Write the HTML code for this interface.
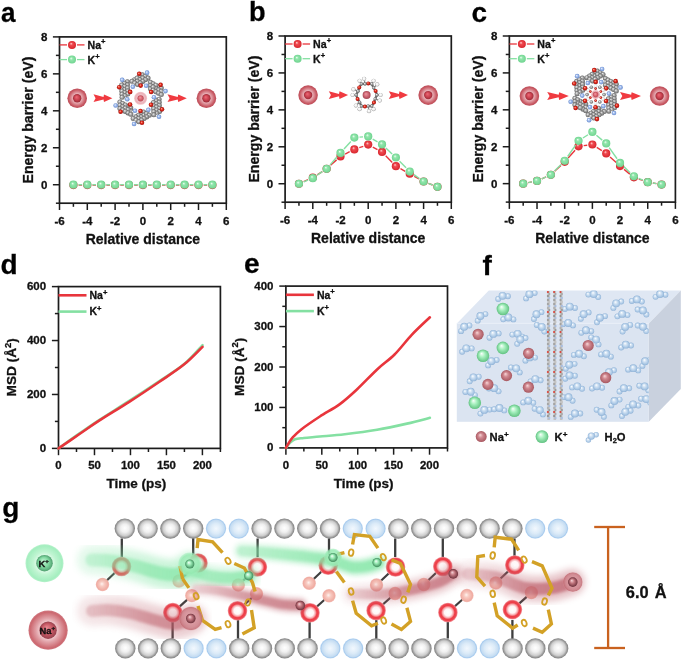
<!DOCTYPE html><html><head><meta charset="utf-8"><style>html,body{margin:0;padding:0;background:#fff;overflow:hidden}svg{display:block;filter:blur(0.4px)}text{font-family:"Liberation Sans",sans-serif;font-weight:bold;stroke:#111;stroke-width:0.3px}</style></head><body>
<svg width="685" height="663" viewBox="0 0 685 663">
<defs>
<radialGradient id="gRed" cx="0.5" cy="0.5" r="0.5" fx="0.38" fy="0.32"><stop offset="0" stop-color="#ffd8d8"/><stop offset="0.35" stop-color="#f04a50"/><stop offset="1" stop-color="#d8262e"/></radialGradient>
<radialGradient id="gGrn" cx="0.5" cy="0.5" r="0.5" fx="0.38" fy="0.32"><stop offset="0" stop-color="#f2fff6"/><stop offset="0.35" stop-color="#92e6ac"/><stop offset="1" stop-color="#70d490"/></radialGradient>
<radialGradient id="gHalo" cx="0.5" cy="0.5" r="0.5"><stop offset="0.4" stop-color="#eebcc2"/><stop offset="0.6" stop-color="#dc9098"/><stop offset="0.85" stop-color="#c85a64"/><stop offset="1" stop-color="#bc4c58"/></radialGradient>
<radialGradient id="gCore" cx="0.5" cy="0.5" r="0.5" fx="0.4" fy="0.35"><stop offset="0" stop-color="#ee6a78"/><stop offset="0.6" stop-color="#c8404e"/><stop offset="1" stop-color="#9c2c38"/></radialGradient>
<radialGradient id="gC" cx="0.5" cy="0.5" r="0.5" fx="0.38" fy="0.35"><stop offset="0" stop-color="#f2f2f2"/><stop offset="0.5" stop-color="#a4a4a4"/><stop offset="1" stop-color="#666666"/></radialGradient>
<radialGradient id="gO" cx="0.5" cy="0.5" r="0.5" fx="0.38" fy="0.35"><stop offset="0" stop-color="#ffb0a0"/><stop offset="0.5" stop-color="#e02818"/><stop offset="1" stop-color="#a01010"/></radialGradient>
<radialGradient id="gN" cx="0.5" cy="0.5" r="0.5" fx="0.38" fy="0.35"><stop offset="0" stop-color="#eef4ff"/><stop offset="0.5" stop-color="#9cb8ec"/><stop offset="1" stop-color="#6a8ccc"/></radialGradient>
<radialGradient id="gHw" cx="0.5" cy="0.5" r="0.5" fx="0.38" fy="0.35"><stop offset="0" stop-color="#ffffff"/><stop offset="0.6" stop-color="#f0f0f0"/><stop offset="1" stop-color="#b8b8b8"/></radialGradient>
<radialGradient id="gHaloS" cx="0.5" cy="0.5" r="0.5"><stop offset="0.3" stop-color="#f4d0d4"/><stop offset="0.8" stop-color="#eab0b8"/><stop offset="1" stop-color="#f2c8cc"/></radialGradient>
<radialGradient id="gCore2" cx="0.5" cy="0.5" r="0.5" fx="0.4" fy="0.35"><stop offset="0" stop-color="#f49aa2"/><stop offset="0.6" stop-color="#d86470"/><stop offset="1" stop-color="#b84a56"/></radialGradient>
<radialGradient id="gW" cx="0.5" cy="0.5" r="0.5" fx="0.4" fy="0.32"><stop offset="0" stop-color="#ffffff"/><stop offset="0.35" stop-color="#d4e4f4"/><stop offset="0.8" stop-color="#a8c6e4"/><stop offset="1" stop-color="#90b2d6"/></radialGradient>
<radialGradient id="gNaF" cx="0.5" cy="0.5" r="0.5" fx="0.4" fy="0.34"><stop offset="0" stop-color="#f8d8d8"/><stop offset="0.42" stop-color="#d08890"/><stop offset="1" stop-color="#a85860"/></radialGradient>
<radialGradient id="gKF" cx="0.5" cy="0.5" r="0.5" fx="0.38" fy="0.32"><stop offset="0" stop-color="#fbfffc"/><stop offset="0.45" stop-color="#a6f0be"/><stop offset="1" stop-color="#62c282"/></radialGradient>
<radialGradient id="gGrayB" cx="0.5" cy="0.5" r="0.5" fx="0.5" fy="0.47"><stop offset="0" stop-color="#ffffff"/><stop offset="0.4" stop-color="#f0f0f0"/><stop offset="0.72" stop-color="#cdcdcd"/><stop offset="0.88" stop-color="#9c9c9c"/><stop offset="1" stop-color="#7c7c7c"/></radialGradient>
<radialGradient id="gBlueB" cx="0.5" cy="0.5" r="0.5"><stop offset="0" stop-color="#f2f8fe"/><stop offset="0.5" stop-color="#dcebf8"/><stop offset="0.82" stop-color="#c4dcf2"/><stop offset="0.92" stop-color="#a8cbee"/><stop offset="1" stop-color="#c0dbf4"/></radialGradient>
<radialGradient id="gOring" cx="0.5" cy="0.5" r="0.5"><stop offset="0" stop-color="#ffffff"/><stop offset="0.36" stop-color="#fff6f6"/><stop offset="0.55" stop-color="#f7a8ac"/><stop offset="0.7" stop-color="#ef3c46"/><stop offset="0.86" stop-color="#ec4650"/><stop offset="1" stop-color="#f4a4aa"/></radialGradient>
<radialGradient id="gHp" cx="0.5" cy="0.5" r="0.5" fx="0.45" fy="0.45"><stop offset="0" stop-color="#fff2ee"/><stop offset="0.35" stop-color="#f8cbc2"/><stop offset="0.85" stop-color="#f0aca2"/><stop offset="1" stop-color="#f3bfb8"/></radialGradient>
<radialGradient id="gKion" cx="0.5" cy="0.5" r="0.5" fx="0.38" fy="0.32"><stop offset="0" stop-color="#f6fff9"/><stop offset="0.45" stop-color="#96e8b2"/><stop offset="1" stop-color="#3e8a5a"/></radialGradient>
<radialGradient id="gNaion" cx="0.5" cy="0.5" r="0.5" fx="0.38" fy="0.32"><stop offset="0" stop-color="#f8d6da"/><stop offset="0.45" stop-color="#c47880"/><stop offset="1" stop-color="#6e323c"/></radialGradient>
<radialGradient id="gKhalo" cx="0.5" cy="0.5" r="0.5"><stop offset="0" stop-color="#b8f4cc" stop-opacity="0.9"/><stop offset="0.8" stop-color="#96eab2" stop-opacity="0.85"/><stop offset="1" stop-color="#a4eebe" stop-opacity="0.5"/></radialGradient>
<radialGradient id="gNahalo" cx="0.5" cy="0.5" r="0.5"><stop offset="0" stop-color="#eab4ba" stop-opacity="0.95"/><stop offset="0.75" stop-color="#d08890" stop-opacity="0.9"/><stop offset="0.92" stop-color="#c47078" stop-opacity="0.85"/><stop offset="1" stop-color="#d89098" stop-opacity="0.4"/></radialGradient>
<radialGradient id="gKbig" cx="0.5" cy="0.5" r="0.5"><stop offset="0.4" stop-color="#e0fbe9"/><stop offset="0.6" stop-color="#c0f5d2"/><stop offset="0.92" stop-color="#a4eebf"/><stop offset="1" stop-color="#b8f2cc"/></radialGradient>
<radialGradient id="gKbigc" cx="0.5" cy="0.5" r="0.5" fx="0.4" fy="0.35"><stop offset="0" stop-color="#c4f6d6"/><stop offset="0.6" stop-color="#80d8a0"/><stop offset="1" stop-color="#4e9e6e"/></radialGradient>
<radialGradient id="gNabig" cx="0.5" cy="0.5" r="0.5"><stop offset="0.4" stop-color="#f4d0d4"/><stop offset="0.6" stop-color="#e2a4aa"/><stop offset="0.92" stop-color="#cc6870"/><stop offset="1" stop-color="#d07880"/></radialGradient>
<radialGradient id="gNabigc" cx="0.5" cy="0.5" r="0.5" fx="0.4" fy="0.35"><stop offset="0" stop-color="#ea8a94"/><stop offset="0.6" stop-color="#c85a66"/><stop offset="1" stop-color="#96404c"/></radialGradient>
<filter id="fB1" x="-20%" y="-100%" width="140%" height="300%"><feGaussianBlur stdDeviation="3.5"/></filter>
<filter id="fB3" x="-20%" y="-100%" width="140%" height="300%"><feGaussianBlur stdDeviation="2.2"/></filter>
<filter id="fB2" x="-20%" y="-100%" width="140%" height="300%"><feGaussianBlur stdDeviation="1.5"/></filter>
<radialGradient id="gHw2" cx="0.5" cy="0.5" r="0.5" fx="0.4" fy="0.35"><stop offset="0" stop-color="#ffffff"/><stop offset="0.55" stop-color="#f2f2f2"/><stop offset="1" stop-color="#a0a0a0"/></radialGradient>
<radialGradient id="gCore3" cx="0.5" cy="0.5" r="0.5" fx="0.4" fy="0.35"><stop offset="0" stop-color="#ee9aa4"/><stop offset="0.6" stop-color="#cc6472"/><stop offset="1" stop-color="#a44654"/></radialGradient>
</defs>
<text x="1.1" y="21.6" font-size="28" fill="#000" transform="translate(1.1 0) scale(0.93 1) translate(-1.1 0)">a</text>
<text x="249.00" y="21.20" font-size="27.2" text-anchor="start" fill="#000" >b</text>
<text x="471.60" y="21.50" font-size="28" text-anchor="start" fill="#000" >c</text>
<text x="0.40" y="273.70" font-size="28" text-anchor="start" fill="#000" >d</text>
<text x="244.00" y="272.90" font-size="28" text-anchor="start" fill="#000" >e</text>
<text x="482.60" y="274.60" font-size="28" text-anchor="start" fill="#000" >f</text>
<text x="2.30" y="516.60" font-size="28" text-anchor="start" fill="#000" >g</text>
<line x1="55.90" y1="203.20" x2="59.50" y2="203.20" stroke="#1c1c1c" stroke-width="1.5" />
<line x1="52.90" y1="184.72" x2="59.50" y2="184.72" stroke="#1c1c1c" stroke-width="1.5" />
<text x="47.50" y="188.72" font-size="11.5" text-anchor="end" fill="#111" >0</text>
<line x1="55.90" y1="166.24" x2="59.50" y2="166.24" stroke="#1c1c1c" stroke-width="1.5" />
<line x1="52.90" y1="147.77" x2="59.50" y2="147.77" stroke="#1c1c1c" stroke-width="1.5" />
<text x="47.50" y="151.77" font-size="11.5" text-anchor="end" fill="#111" >2</text>
<line x1="55.90" y1="129.29" x2="59.50" y2="129.29" stroke="#1c1c1c" stroke-width="1.5" />
<line x1="52.90" y1="110.81" x2="59.50" y2="110.81" stroke="#1c1c1c" stroke-width="1.5" />
<text x="47.50" y="114.81" font-size="11.5" text-anchor="end" fill="#111" >4</text>
<line x1="55.90" y1="92.33" x2="59.50" y2="92.33" stroke="#1c1c1c" stroke-width="1.5" />
<line x1="52.90" y1="73.86" x2="59.50" y2="73.86" stroke="#1c1c1c" stroke-width="1.5" />
<text x="47.50" y="77.86" font-size="11.5" text-anchor="end" fill="#111" >6</text>
<line x1="55.90" y1="55.38" x2="59.50" y2="55.38" stroke="#1c1c1c" stroke-width="1.5" />
<line x1="52.90" y1="36.90" x2="59.50" y2="36.90" stroke="#1c1c1c" stroke-width="1.5" />
<text x="47.50" y="40.90" font-size="11.5" text-anchor="end" fill="#111" >8</text>
<line x1="59.50" y1="203.20" x2="59.50" y2="210.00" stroke="#1c1c1c" stroke-width="1.5" />
<text x="59.50" y="225.20" font-size="11.5" text-anchor="middle" fill="#111" >-6</text>
<line x1="73.40" y1="203.20" x2="73.40" y2="206.80" stroke="#1c1c1c" stroke-width="1.5" />
<line x1="87.30" y1="203.20" x2="87.30" y2="210.00" stroke="#1c1c1c" stroke-width="1.5" />
<text x="87.30" y="225.20" font-size="11.5" text-anchor="middle" fill="#111" >-4</text>
<line x1="101.20" y1="203.20" x2="101.20" y2="206.80" stroke="#1c1c1c" stroke-width="1.5" />
<line x1="115.10" y1="203.20" x2="115.10" y2="210.00" stroke="#1c1c1c" stroke-width="1.5" />
<text x="115.10" y="225.20" font-size="11.5" text-anchor="middle" fill="#111" >-2</text>
<line x1="129.00" y1="203.20" x2="129.00" y2="206.80" stroke="#1c1c1c" stroke-width="1.5" />
<line x1="142.90" y1="203.20" x2="142.90" y2="210.00" stroke="#1c1c1c" stroke-width="1.5" />
<text x="142.90" y="225.20" font-size="11.5" text-anchor="middle" fill="#111" >0</text>
<line x1="156.80" y1="203.20" x2="156.80" y2="206.80" stroke="#1c1c1c" stroke-width="1.5" />
<line x1="170.70" y1="203.20" x2="170.70" y2="210.00" stroke="#1c1c1c" stroke-width="1.5" />
<text x="170.70" y="225.20" font-size="11.5" text-anchor="middle" fill="#111" >2</text>
<line x1="184.60" y1="203.20" x2="184.60" y2="206.80" stroke="#1c1c1c" stroke-width="1.5" />
<line x1="198.50" y1="203.20" x2="198.50" y2="210.00" stroke="#1c1c1c" stroke-width="1.5" />
<text x="198.50" y="225.20" font-size="11.5" text-anchor="middle" fill="#111" >4</text>
<line x1="212.40" y1="203.20" x2="212.40" y2="206.80" stroke="#1c1c1c" stroke-width="1.5" />
<line x1="226.30" y1="203.20" x2="226.30" y2="210.00" stroke="#1c1c1c" stroke-width="1.5" />
<text x="226.30" y="225.20" font-size="11.5" text-anchor="middle" fill="#111" >6</text>
<rect x="59.50" y="36.90" width="166.80" height="166.30" fill="none" stroke="#1c1c1c" stroke-width="1.7"/>
<text x="142.90" y="244.20" font-size="14" text-anchor="middle" fill="#111" >Relative distance</text>
<text x="0" y="0" font-size="14.1" text-anchor="middle" fill="#111" transform="translate(33.20,120.05) rotate(-90)">Energy barrier (eV)</text>
<line x1="59.50" y1="44.90" x2="67.00" y2="44.90" stroke="#e8353c" stroke-width="1.3" />
<line x1="77.00" y1="44.90" x2="84.50" y2="44.90" stroke="#e8353c" stroke-width="1.3" />
<circle cx="72.00" cy="44.90" r="4.00" fill="url(#gRed)" />
<line x1="59.50" y1="59.60" x2="67.00" y2="59.60" stroke="#84e0a2" stroke-width="1.3" />
<line x1="77.00" y1="59.60" x2="84.50" y2="59.60" stroke="#84e0a2" stroke-width="1.3" />
<circle cx="72.00" cy="59.60" r="4.00" fill="url(#gGrn)" />
<text x="87.50" y="48.80" font-size="10.6" fill="#111">Na<tspan font-size="7.6" dy="-4.45">+</tspan></text>
<text x="87.50" y="63.50" font-size="10.6" fill="#111">K<tspan font-size="7.6" dy="-4.45">+</tspan></text>
<line x1="78.60" y1="185.09" x2="82.10" y2="185.09" stroke="#e8353c" stroke-width="1.4" />
<line x1="92.50" y1="185.09" x2="96.00" y2="185.09" stroke="#e8353c" stroke-width="1.4" />
<line x1="106.40" y1="185.09" x2="109.90" y2="185.09" stroke="#e8353c" stroke-width="1.4" />
<line x1="120.30" y1="185.09" x2="123.80" y2="185.09" stroke="#e8353c" stroke-width="1.4" />
<line x1="134.20" y1="185.09" x2="137.70" y2="185.09" stroke="#e8353c" stroke-width="1.4" />
<line x1="148.10" y1="185.09" x2="151.60" y2="185.09" stroke="#e8353c" stroke-width="1.4" />
<line x1="162.00" y1="185.09" x2="165.50" y2="185.09" stroke="#e8353c" stroke-width="1.4" />
<line x1="175.90" y1="185.09" x2="179.40" y2="185.09" stroke="#e8353c" stroke-width="1.4" />
<line x1="189.80" y1="185.09" x2="193.30" y2="185.09" stroke="#e8353c" stroke-width="1.4" />
<line x1="203.70" y1="185.09" x2="207.20" y2="185.09" stroke="#e8353c" stroke-width="1.4" />
<circle cx="73.40" cy="185.09" r="4.10" fill="url(#gRed)" />
<circle cx="87.30" cy="185.09" r="4.10" fill="url(#gRed)" />
<circle cx="101.20" cy="185.09" r="4.10" fill="url(#gRed)" />
<circle cx="115.10" cy="185.09" r="4.10" fill="url(#gRed)" />
<circle cx="129.00" cy="185.09" r="4.10" fill="url(#gRed)" />
<circle cx="142.90" cy="185.09" r="4.10" fill="url(#gRed)" />
<circle cx="156.80" cy="185.09" r="4.10" fill="url(#gRed)" />
<circle cx="170.70" cy="185.09" r="4.10" fill="url(#gRed)" />
<circle cx="184.60" cy="185.09" r="4.10" fill="url(#gRed)" />
<circle cx="198.50" cy="185.09" r="4.10" fill="url(#gRed)" />
<circle cx="212.40" cy="185.09" r="4.10" fill="url(#gRed)" />
<line x1="78.60" y1="184.72" x2="82.10" y2="184.72" stroke="#84e0a2" stroke-width="1.4" />
<line x1="92.50" y1="184.72" x2="96.00" y2="184.72" stroke="#84e0a2" stroke-width="1.4" />
<line x1="106.40" y1="184.72" x2="109.90" y2="184.72" stroke="#84e0a2" stroke-width="1.4" />
<line x1="120.30" y1="184.72" x2="123.80" y2="184.72" stroke="#84e0a2" stroke-width="1.4" />
<line x1="134.20" y1="184.72" x2="137.70" y2="184.72" stroke="#84e0a2" stroke-width="1.4" />
<line x1="148.10" y1="184.72" x2="151.60" y2="184.72" stroke="#84e0a2" stroke-width="1.4" />
<line x1="162.00" y1="184.72" x2="165.50" y2="184.72" stroke="#84e0a2" stroke-width="1.4" />
<line x1="175.90" y1="184.72" x2="179.40" y2="184.72" stroke="#84e0a2" stroke-width="1.4" />
<line x1="189.80" y1="184.72" x2="193.30" y2="184.72" stroke="#84e0a2" stroke-width="1.4" />
<line x1="203.70" y1="184.72" x2="207.20" y2="184.72" stroke="#84e0a2" stroke-width="1.4" />
<circle cx="73.40" cy="184.72" r="4.10" fill="url(#gGrn)" />
<circle cx="87.30" cy="184.72" r="4.10" fill="url(#gGrn)" />
<circle cx="101.20" cy="184.72" r="4.10" fill="url(#gGrn)" />
<circle cx="115.10" cy="184.72" r="4.10" fill="url(#gGrn)" />
<circle cx="129.00" cy="184.72" r="4.10" fill="url(#gGrn)" />
<circle cx="142.90" cy="184.72" r="4.10" fill="url(#gGrn)" />
<circle cx="156.80" cy="184.72" r="4.10" fill="url(#gGrn)" />
<circle cx="170.70" cy="184.72" r="4.10" fill="url(#gGrn)" />
<circle cx="184.60" cy="184.72" r="4.10" fill="url(#gGrn)" />
<circle cx="198.50" cy="184.72" r="4.10" fill="url(#gGrn)" />
<circle cx="212.40" cy="184.72" r="4.10" fill="url(#gGrn)" />
<line x1="281.50" y1="202.20" x2="285.10" y2="202.20" stroke="#1c1c1c" stroke-width="1.5" />
<line x1="278.50" y1="183.73" x2="285.10" y2="183.73" stroke="#1c1c1c" stroke-width="1.5" />
<text x="273.10" y="187.73" font-size="11.5" text-anchor="end" fill="#111" >0</text>
<line x1="281.50" y1="165.27" x2="285.10" y2="165.27" stroke="#1c1c1c" stroke-width="1.5" />
<line x1="278.50" y1="146.80" x2="285.10" y2="146.80" stroke="#1c1c1c" stroke-width="1.5" />
<text x="273.10" y="150.80" font-size="11.5" text-anchor="end" fill="#111" >2</text>
<line x1="281.50" y1="128.33" x2="285.10" y2="128.33" stroke="#1c1c1c" stroke-width="1.5" />
<line x1="278.50" y1="109.87" x2="285.10" y2="109.87" stroke="#1c1c1c" stroke-width="1.5" />
<text x="273.10" y="113.87" font-size="11.5" text-anchor="end" fill="#111" >4</text>
<line x1="281.50" y1="91.40" x2="285.10" y2="91.40" stroke="#1c1c1c" stroke-width="1.5" />
<line x1="278.50" y1="72.93" x2="285.10" y2="72.93" stroke="#1c1c1c" stroke-width="1.5" />
<text x="273.10" y="76.93" font-size="11.5" text-anchor="end" fill="#111" >6</text>
<line x1="281.50" y1="54.47" x2="285.10" y2="54.47" stroke="#1c1c1c" stroke-width="1.5" />
<line x1="278.50" y1="36.00" x2="285.10" y2="36.00" stroke="#1c1c1c" stroke-width="1.5" />
<text x="273.10" y="40.00" font-size="11.5" text-anchor="end" fill="#111" >8</text>
<line x1="285.10" y1="202.20" x2="285.10" y2="209.00" stroke="#1c1c1c" stroke-width="1.5" />
<text x="285.10" y="224.20" font-size="11.5" text-anchor="middle" fill="#111" >-6</text>
<line x1="298.95" y1="202.20" x2="298.95" y2="205.80" stroke="#1c1c1c" stroke-width="1.5" />
<line x1="312.80" y1="202.20" x2="312.80" y2="209.00" stroke="#1c1c1c" stroke-width="1.5" />
<text x="312.80" y="224.20" font-size="11.5" text-anchor="middle" fill="#111" >-4</text>
<line x1="326.65" y1="202.20" x2="326.65" y2="205.80" stroke="#1c1c1c" stroke-width="1.5" />
<line x1="340.50" y1="202.20" x2="340.50" y2="209.00" stroke="#1c1c1c" stroke-width="1.5" />
<text x="340.50" y="224.20" font-size="11.5" text-anchor="middle" fill="#111" >-2</text>
<line x1="354.35" y1="202.20" x2="354.35" y2="205.80" stroke="#1c1c1c" stroke-width="1.5" />
<line x1="368.20" y1="202.20" x2="368.20" y2="209.00" stroke="#1c1c1c" stroke-width="1.5" />
<text x="368.20" y="224.20" font-size="11.5" text-anchor="middle" fill="#111" >0</text>
<line x1="382.05" y1="202.20" x2="382.05" y2="205.80" stroke="#1c1c1c" stroke-width="1.5" />
<line x1="395.90" y1="202.20" x2="395.90" y2="209.00" stroke="#1c1c1c" stroke-width="1.5" />
<text x="395.90" y="224.20" font-size="11.5" text-anchor="middle" fill="#111" >2</text>
<line x1="409.75" y1="202.20" x2="409.75" y2="205.80" stroke="#1c1c1c" stroke-width="1.5" />
<line x1="423.60" y1="202.20" x2="423.60" y2="209.00" stroke="#1c1c1c" stroke-width="1.5" />
<text x="423.60" y="224.20" font-size="11.5" text-anchor="middle" fill="#111" >4</text>
<line x1="437.45" y1="202.20" x2="437.45" y2="205.80" stroke="#1c1c1c" stroke-width="1.5" />
<line x1="451.30" y1="202.20" x2="451.30" y2="209.00" stroke="#1c1c1c" stroke-width="1.5" />
<text x="451.30" y="224.20" font-size="11.5" text-anchor="middle" fill="#111" >6</text>
<rect x="285.10" y="36.00" width="166.20" height="166.20" fill="none" stroke="#1c1c1c" stroke-width="1.7"/>
<text x="368.20" y="243.20" font-size="14" text-anchor="middle" fill="#111" >Relative distance</text>
<text x="0" y="0" font-size="14.1" text-anchor="middle" fill="#111" transform="translate(258.80,119.10) rotate(-90)">Energy barrier (eV)</text>
<line x1="285.10" y1="44.00" x2="292.60" y2="44.00" stroke="#e8353c" stroke-width="1.3" />
<line x1="302.60" y1="44.00" x2="310.10" y2="44.00" stroke="#e8353c" stroke-width="1.3" />
<circle cx="297.60" cy="44.00" r="4.00" fill="url(#gRed)" />
<line x1="285.10" y1="58.70" x2="292.60" y2="58.70" stroke="#84e0a2" stroke-width="1.3" />
<line x1="302.60" y1="58.70" x2="310.10" y2="58.70" stroke="#84e0a2" stroke-width="1.3" />
<circle cx="297.60" cy="58.70" r="4.00" fill="url(#gGrn)" />
<text x="313.10" y="47.90" font-size="10.6" fill="#111">Na<tspan font-size="7.6" dy="-4.45">+</tspan></text>
<text x="313.10" y="62.60" font-size="10.6" fill="#111">K<tspan font-size="7.6" dy="-4.45">+</tspan></text>
<line x1="303.71" y1="181.64" x2="308.04" y2="179.73" stroke="#e8353c" stroke-width="1.4" />
<line x1="317.18" y1="174.84" x2="322.27" y2="171.58" stroke="#e8353c" stroke-width="1.4" />
<line x1="330.53" y1="165.31" x2="336.62" y2="159.87" stroke="#e8353c" stroke-width="1.4" />
<line x1="345.14" y1="154.05" x2="349.71" y2="151.74" stroke="#e8353c" stroke-width="1.4" />
<line x1="359.26" y1="147.68" x2="363.29" y2="146.29" stroke="#e8353c" stroke-width="1.4" />
<line x1="372.79" y1="147.03" x2="377.46" y2="149.52" stroke="#e8353c" stroke-width="1.4" />
<line x1="385.68" y1="155.70" x2="392.27" y2="162.46" stroke="#e8353c" stroke-width="1.4" />
<line x1="400.46" y1="168.68" x2="405.19" y2="171.27" stroke="#e8353c" stroke-width="1.4" />
<line x1="414.29" y1="176.30" x2="419.06" y2="178.98" stroke="#e8353c" stroke-width="1.4" />
<line x1="428.45" y1="183.39" x2="432.60" y2="185.00" stroke="#e8353c" stroke-width="1.4" />
<circle cx="298.95" cy="183.73" r="4.10" fill="url(#gRed)" />
<circle cx="312.80" cy="177.64" r="4.10" fill="url(#gRed)" />
<circle cx="326.65" cy="168.78" r="4.10" fill="url(#gRed)" />
<circle cx="340.50" cy="156.40" r="4.10" fill="url(#gRed)" />
<circle cx="354.35" cy="149.39" r="4.10" fill="url(#gRed)" />
<circle cx="368.20" cy="144.58" r="4.10" fill="url(#gRed)" />
<circle cx="382.05" cy="151.97" r="4.10" fill="url(#gRed)" />
<circle cx="395.90" cy="166.19" r="4.10" fill="url(#gRed)" />
<circle cx="409.75" cy="173.76" r="4.10" fill="url(#gRed)" />
<circle cx="423.60" cy="181.52" r="4.10" fill="url(#gRed)" />
<circle cx="437.45" cy="186.87" r="4.10" fill="url(#gRed)" />
<line x1="303.78" y1="181.80" x2="307.97" y2="180.12" stroke="#84e0a2" stroke-width="1.4" />
<line x1="317.10" y1="175.27" x2="322.35" y2="171.70" stroke="#84e0a2" stroke-width="1.4" />
<line x1="330.07" y1="164.86" x2="337.08" y2="156.81" stroke="#84e0a2" stroke-width="1.4" />
<line x1="343.99" y1="149.04" x2="350.86" y2="141.42" stroke="#84e0a2" stroke-width="1.4" />
<line x1="359.53" y1="137.15" x2="363.02" y2="136.87" stroke="#84e0a2" stroke-width="1.4" />
<line x1="372.71" y1="139.05" x2="377.54" y2="141.81" stroke="#84e0a2" stroke-width="1.4" />
<line x1="385.83" y1="147.97" x2="392.12" y2="153.94" stroke="#84e0a2" stroke-width="1.4" />
<line x1="399.55" y1="161.21" x2="406.10" y2="167.84" stroke="#84e0a2" stroke-width="1.4" />
<line x1="413.97" y1="174.58" x2="419.38" y2="178.48" stroke="#84e0a2" stroke-width="1.4" />
<line x1="428.45" y1="183.39" x2="432.60" y2="185.00" stroke="#84e0a2" stroke-width="1.4" />
<circle cx="298.95" cy="183.73" r="4.10" fill="url(#gGrn)" />
<circle cx="312.80" cy="178.19" r="4.10" fill="url(#gGrn)" />
<circle cx="326.65" cy="168.78" r="4.10" fill="url(#gGrn)" />
<circle cx="340.50" cy="152.89" r="4.10" fill="url(#gGrn)" />
<circle cx="354.35" cy="137.57" r="4.10" fill="url(#gGrn)" />
<circle cx="368.20" cy="136.46" r="4.10" fill="url(#gGrn)" />
<circle cx="382.05" cy="144.40" r="4.10" fill="url(#gGrn)" />
<circle cx="395.90" cy="157.51" r="4.10" fill="url(#gGrn)" />
<circle cx="409.75" cy="171.55" r="4.10" fill="url(#gGrn)" />
<circle cx="423.60" cy="181.52" r="4.10" fill="url(#gGrn)" />
<circle cx="437.45" cy="186.87" r="4.10" fill="url(#gGrn)" />
<line x1="505.75" y1="202.10" x2="509.35" y2="202.10" stroke="#1c1c1c" stroke-width="1.5" />
<line x1="502.75" y1="183.64" x2="509.35" y2="183.64" stroke="#1c1c1c" stroke-width="1.5" />
<text x="497.35" y="187.64" font-size="11.5" text-anchor="end" fill="#111" >0</text>
<line x1="505.75" y1="165.19" x2="509.35" y2="165.19" stroke="#1c1c1c" stroke-width="1.5" />
<line x1="502.75" y1="146.73" x2="509.35" y2="146.73" stroke="#1c1c1c" stroke-width="1.5" />
<text x="497.35" y="150.73" font-size="11.5" text-anchor="end" fill="#111" >2</text>
<line x1="505.75" y1="128.28" x2="509.35" y2="128.28" stroke="#1c1c1c" stroke-width="1.5" />
<line x1="502.75" y1="109.82" x2="509.35" y2="109.82" stroke="#1c1c1c" stroke-width="1.5" />
<text x="497.35" y="113.82" font-size="11.5" text-anchor="end" fill="#111" >4</text>
<line x1="505.75" y1="91.37" x2="509.35" y2="91.37" stroke="#1c1c1c" stroke-width="1.5" />
<line x1="502.75" y1="72.91" x2="509.35" y2="72.91" stroke="#1c1c1c" stroke-width="1.5" />
<text x="497.35" y="76.91" font-size="11.5" text-anchor="end" fill="#111" >6</text>
<line x1="505.75" y1="54.46" x2="509.35" y2="54.46" stroke="#1c1c1c" stroke-width="1.5" />
<line x1="502.75" y1="36.00" x2="509.35" y2="36.00" stroke="#1c1c1c" stroke-width="1.5" />
<text x="497.35" y="40.00" font-size="11.5" text-anchor="end" fill="#111" >8</text>
<line x1="509.35" y1="202.10" x2="509.35" y2="208.90" stroke="#1c1c1c" stroke-width="1.5" />
<text x="509.35" y="224.10" font-size="11.5" text-anchor="middle" fill="#111" >-6</text>
<line x1="523.19" y1="202.10" x2="523.19" y2="205.70" stroke="#1c1c1c" stroke-width="1.5" />
<line x1="537.02" y1="202.10" x2="537.02" y2="208.90" stroke="#1c1c1c" stroke-width="1.5" />
<text x="537.02" y="224.10" font-size="11.5" text-anchor="middle" fill="#111" >-4</text>
<line x1="550.86" y1="202.10" x2="550.86" y2="205.70" stroke="#1c1c1c" stroke-width="1.5" />
<line x1="564.70" y1="202.10" x2="564.70" y2="208.90" stroke="#1c1c1c" stroke-width="1.5" />
<text x="564.70" y="224.10" font-size="11.5" text-anchor="middle" fill="#111" >-2</text>
<line x1="578.54" y1="202.10" x2="578.54" y2="205.70" stroke="#1c1c1c" stroke-width="1.5" />
<line x1="592.38" y1="202.10" x2="592.38" y2="208.90" stroke="#1c1c1c" stroke-width="1.5" />
<text x="592.38" y="224.10" font-size="11.5" text-anchor="middle" fill="#111" >0</text>
<line x1="606.21" y1="202.10" x2="606.21" y2="205.70" stroke="#1c1c1c" stroke-width="1.5" />
<line x1="620.05" y1="202.10" x2="620.05" y2="208.90" stroke="#1c1c1c" stroke-width="1.5" />
<text x="620.05" y="224.10" font-size="11.5" text-anchor="middle" fill="#111" >2</text>
<line x1="633.89" y1="202.10" x2="633.89" y2="205.70" stroke="#1c1c1c" stroke-width="1.5" />
<line x1="647.73" y1="202.10" x2="647.73" y2="208.90" stroke="#1c1c1c" stroke-width="1.5" />
<text x="647.73" y="224.10" font-size="11.5" text-anchor="middle" fill="#111" >4</text>
<line x1="661.56" y1="202.10" x2="661.56" y2="205.70" stroke="#1c1c1c" stroke-width="1.5" />
<line x1="675.40" y1="202.10" x2="675.40" y2="208.90" stroke="#1c1c1c" stroke-width="1.5" />
<text x="675.40" y="224.10" font-size="11.5" text-anchor="middle" fill="#111" >6</text>
<rect x="509.35" y="36.00" width="166.05" height="166.10" fill="none" stroke="#1c1c1c" stroke-width="1.7"/>
<text x="592.38" y="243.10" font-size="14" text-anchor="middle" fill="#111" >Relative distance</text>
<text x="0" y="0" font-size="14.1" text-anchor="middle" fill="#111" transform="translate(483.05,119.05) rotate(-90)">Energy barrier (eV)</text>
<line x1="509.35" y1="44.00" x2="516.85" y2="44.00" stroke="#e8353c" stroke-width="1.3" />
<line x1="526.85" y1="44.00" x2="534.35" y2="44.00" stroke="#e8353c" stroke-width="1.3" />
<circle cx="521.85" cy="44.00" r="4.00" fill="url(#gRed)" />
<line x1="509.35" y1="58.70" x2="516.85" y2="58.70" stroke="#84e0a2" stroke-width="1.3" />
<line x1="526.85" y1="58.70" x2="534.35" y2="58.70" stroke="#84e0a2" stroke-width="1.3" />
<circle cx="521.85" cy="58.70" r="4.00" fill="url(#gGrn)" />
<text x="537.35" y="47.90" font-size="10.6" fill="#111">Na<tspan font-size="7.6" dy="-4.45">+</tspan></text>
<text x="537.35" y="62.60" font-size="10.6" fill="#111">K<tspan font-size="7.6" dy="-4.45">+</tspan></text>
<line x1="528.29" y1="182.62" x2="531.93" y2="181.90" stroke="#e8353c" stroke-width="1.4" />
<line x1="541.78" y1="178.78" x2="546.10" y2="176.88" stroke="#e8353c" stroke-width="1.4" />
<line x1="554.66" y1="171.24" x2="560.90" y2="165.42" stroke="#e8353c" stroke-width="1.4" />
<line x1="568.16" y1="157.99" x2="575.07" y2="150.24" stroke="#e8353c" stroke-width="1.4" />
<line x1="583.69" y1="145.68" x2="587.22" y2="145.21" stroke="#e8353c" stroke-width="1.4" />
<line x1="596.75" y1="147.32" x2="601.83" y2="150.57" stroke="#e8353c" stroke-width="1.4" />
<line x1="610.04" y1="156.90" x2="616.22" y2="162.59" stroke="#e8353c" stroke-width="1.4" />
<line x1="624.08" y1="169.39" x2="629.85" y2="174.09" stroke="#e8353c" stroke-width="1.4" />
<line x1="638.80" y1="179.07" x2="642.81" y2="180.46" stroke="#e8353c" stroke-width="1.4" />
<line x1="652.85" y1="183.06" x2="656.44" y2="183.68" stroke="#e8353c" stroke-width="1.4" />
<circle cx="523.19" cy="183.64" r="4.10" fill="url(#gRed)" />
<circle cx="537.02" cy="180.88" r="4.10" fill="url(#gRed)" />
<circle cx="550.86" cy="174.79" r="4.10" fill="url(#gRed)" />
<circle cx="564.70" cy="161.87" r="4.10" fill="url(#gRed)" />
<circle cx="578.54" cy="146.36" r="4.10" fill="url(#gRed)" />
<circle cx="592.38" cy="144.52" r="4.10" fill="url(#gRed)" />
<circle cx="606.21" cy="153.38" r="4.10" fill="url(#gRed)" />
<circle cx="620.05" cy="166.11" r="4.10" fill="url(#gRed)" />
<circle cx="633.89" cy="177.37" r="4.10" fill="url(#gRed)" />
<circle cx="647.73" cy="182.17" r="4.10" fill="url(#gRed)" />
<circle cx="661.56" cy="184.57" r="4.10" fill="url(#gRed)" />
<line x1="528.29" y1="182.62" x2="531.93" y2="181.90" stroke="#84e0a2" stroke-width="1.4" />
<line x1="541.78" y1="178.78" x2="546.10" y2="176.88" stroke="#84e0a2" stroke-width="1.4" />
<line x1="554.51" y1="171.08" x2="561.05" y2="164.46" stroke="#84e0a2" stroke-width="1.4" />
<line x1="567.67" y1="156.49" x2="575.57" y2="145.10" stroke="#84e0a2" stroke-width="1.4" />
<line x1="582.92" y1="138.02" x2="588.00" y2="134.77" stroke="#84e0a2" stroke-width="1.4" />
<line x1="596.38" y1="135.28" x2="602.21" y2="140.10" stroke="#84e0a2" stroke-width="1.4" />
<line x1="609.22" y1="147.66" x2="617.05" y2="158.73" stroke="#84e0a2" stroke-width="1.4" />
<line x1="623.80" y1="166.58" x2="630.14" y2="172.66" stroke="#84e0a2" stroke-width="1.4" />
<line x1="638.67" y1="178.30" x2="642.94" y2="180.13" stroke="#84e0a2" stroke-width="1.4" />
<line x1="652.85" y1="183.06" x2="656.44" y2="183.68" stroke="#84e0a2" stroke-width="1.4" />
<circle cx="523.19" cy="183.64" r="4.10" fill="url(#gGrn)" />
<circle cx="537.02" cy="180.88" r="4.10" fill="url(#gGrn)" />
<circle cx="550.86" cy="174.79" r="4.10" fill="url(#gGrn)" />
<circle cx="564.70" cy="160.76" r="4.10" fill="url(#gGrn)" />
<circle cx="578.54" cy="140.83" r="4.10" fill="url(#gGrn)" />
<circle cx="592.38" cy="131.97" r="4.10" fill="url(#gGrn)" />
<circle cx="606.21" cy="143.41" r="4.10" fill="url(#gGrn)" />
<circle cx="620.05" cy="162.97" r="4.10" fill="url(#gGrn)" />
<circle cx="633.89" cy="176.26" r="4.10" fill="url(#gGrn)" />
<circle cx="647.73" cy="182.17" r="4.10" fill="url(#gGrn)" />
<circle cx="661.56" cy="184.57" r="4.10" fill="url(#gGrn)" />
<circle cx="77.20" cy="98.20" r="9.80" fill="url(#gHalo)" />
<circle cx="77.20" cy="98.20" r="4.21" fill="url(#gCore)" />
<path d="M93.50,94.30 L103.52,97.00 L103.99,94.40 L112.40,98.20 L103.99,102.10 L103.52,99.40 L93.50,102.10 L95.58,98.20 Z" fill="#f03a40"/>
<path d="M167.50,94.30 L177.73,97.00 L178.21,94.40 L186.80,98.20 L178.21,102.10 L177.73,99.40 L167.50,102.10 L169.62,98.20 Z" fill="#f03a40"/>
<circle cx="206.40" cy="98.20" r="9.80" fill="url(#gHalo)" />
<circle cx="206.40" cy="98.20" r="4.21" fill="url(#gCore)" />
<circle cx="308.10" cy="95.10" r="9.80" fill="url(#gHalo)" />
<circle cx="308.10" cy="95.10" r="4.21" fill="url(#gCore)" />
<path d="M328.80,91.20 L339.03,93.90 L339.51,91.30 L348.10,95.10 L339.51,99.00 L339.03,96.30 L328.80,99.00 L330.92,95.10 Z" fill="#f03a40"/>
<path d="M388.80,91.20 L398.98,93.90 L399.46,91.30 L408.00,95.10 L399.46,99.00 L398.98,96.30 L388.80,99.00 L390.91,95.10 Z" fill="#f03a40"/>
<circle cx="428.20" cy="95.10" r="9.80" fill="url(#gHalo)" />
<circle cx="428.20" cy="95.10" r="4.21" fill="url(#gCore)" />
<circle cx="529.40" cy="96.00" r="9.80" fill="url(#gHalo)" />
<circle cx="529.40" cy="96.00" r="4.21" fill="url(#gCore)" />
<path d="M547.20,92.10 L558.65,94.80 L559.19,92.20 L568.80,96.00 L559.19,99.90 L558.65,97.20 L547.20,99.90 L549.58,96.00 Z" fill="#f03a40"/>
<path d="M620.00,92.10 L631.13,94.80 L631.65,92.20 L641.00,96.00 L631.65,99.90 L631.13,97.20 L620.00,99.90 L622.31,96.00 Z" fill="#f03a40"/>
<circle cx="659.60" cy="96.00" r="9.80" fill="url(#gHalo)" />
<circle cx="659.60" cy="96.00" r="4.21" fill="url(#gCore)" />
<line x1="51.90" y1="448.40" x2="58.50" y2="448.40" stroke="#1c1c1c" stroke-width="1.5" />
<text x="46.10" y="451.90" font-size="11.5" text-anchor="end" fill="#111" >0</text>
<line x1="54.90" y1="421.43" x2="58.50" y2="421.43" stroke="#1c1c1c" stroke-width="1.5" />
<line x1="51.90" y1="394.47" x2="58.50" y2="394.47" stroke="#1c1c1c" stroke-width="1.5" />
<text x="46.10" y="397.97" font-size="11.5" text-anchor="end" fill="#111" >200</text>
<line x1="54.90" y1="367.50" x2="58.50" y2="367.50" stroke="#1c1c1c" stroke-width="1.5" />
<line x1="51.90" y1="340.53" x2="58.50" y2="340.53" stroke="#1c1c1c" stroke-width="1.5" />
<text x="46.10" y="344.03" font-size="11.5" text-anchor="end" fill="#111" >400</text>
<line x1="54.90" y1="313.57" x2="58.50" y2="313.57" stroke="#1c1c1c" stroke-width="1.5" />
<line x1="51.90" y1="286.60" x2="58.50" y2="286.60" stroke="#1c1c1c" stroke-width="1.5" />
<text x="46.10" y="290.10" font-size="11.5" text-anchor="end" fill="#111" >600</text>
<line x1="58.50" y1="448.40" x2="58.50" y2="455.20" stroke="#1c1c1c" stroke-width="1.5" />
<text x="58.50" y="469.20" font-size="11.4" text-anchor="middle" fill="#111" >0</text>
<line x1="76.49" y1="448.40" x2="76.49" y2="452.00" stroke="#1c1c1c" stroke-width="1.5" />
<line x1="94.48" y1="448.40" x2="94.48" y2="455.20" stroke="#1c1c1c" stroke-width="1.5" />
<text x="94.48" y="469.20" font-size="11.4" text-anchor="middle" fill="#111" >50</text>
<line x1="112.47" y1="448.40" x2="112.47" y2="452.00" stroke="#1c1c1c" stroke-width="1.5" />
<line x1="130.46" y1="448.40" x2="130.46" y2="455.20" stroke="#1c1c1c" stroke-width="1.5" />
<text x="130.46" y="469.20" font-size="11.4" text-anchor="middle" fill="#111" >100</text>
<line x1="148.44" y1="448.40" x2="148.44" y2="452.00" stroke="#1c1c1c" stroke-width="1.5" />
<line x1="166.43" y1="448.40" x2="166.43" y2="455.20" stroke="#1c1c1c" stroke-width="1.5" />
<text x="166.43" y="469.20" font-size="11.4" text-anchor="middle" fill="#111" >150</text>
<line x1="184.42" y1="448.40" x2="184.42" y2="452.00" stroke="#1c1c1c" stroke-width="1.5" />
<line x1="202.41" y1="448.40" x2="202.41" y2="455.20" stroke="#1c1c1c" stroke-width="1.5" />
<text x="202.41" y="469.20" font-size="11.4" text-anchor="middle" fill="#111" >200</text>
<line x1="220.40" y1="448.40" x2="220.40" y2="452.00" stroke="#1c1c1c" stroke-width="1.5" />
<rect x="58.50" y="286.60" width="161.90" height="161.80" fill="none" stroke="#1c1c1c" stroke-width="1.7"/>
<text x="136.45" y="488.40" font-size="13.5" text-anchor="middle" fill="#111" >Time (ps)</text>
<text x="0" y="0" font-size="13.6" text-anchor="middle" fill="#111" transform="translate(16.10,367.30) rotate(-90)">MSD (Å<tspan font-size="9.5" dy="-5.5">2</tspan><tspan dy="5.5">)</tspan></text>
<line x1="58.50" y1="295.30" x2="86.50" y2="295.30" stroke="#e8353c" stroke-width="2.6" />
<line x1="58.50" y1="311.60" x2="86.50" y2="311.60" stroke="#84e0a2" stroke-width="2.6" />
<text x="89.50" y="299.10" font-size="10.5" fill="#111">Na<tspan font-size="7.6" dy="-4.41">+</tspan></text>
<text x="89.50" y="315.40" font-size="10.5" fill="#111">K<tspan font-size="7.6" dy="-4.41">+</tspan></text>
<path d="M58.50,448.40 C62.00,445.91 72.68,438.20 79.51,433.43 C86.35,428.67 91.23,425.23 99.51,419.82 C107.80,414.40 119.30,407.37 129.23,400.94 C139.16,394.51 149.98,387.37 159.09,381.25 C168.21,375.14 176.68,370.29 183.92,364.26 C191.16,358.24 199.45,348.31 202.56,345.12" fill="none" stroke="#84e0a2" stroke-width="2.6" stroke-linejoin="round" stroke-linecap="round"/>
<path d="M58.50,448.40 C62.00,446.00 72.68,438.69 79.51,434.03 C86.35,429.37 91.23,425.80 99.51,420.44 C107.80,415.07 119.30,408.26 129.23,401.86 C139.16,395.45 149.98,388.19 159.09,381.98 C168.21,375.77 176.68,370.48 183.92,364.61 C191.16,358.75 199.45,349.78 202.56,346.82" fill="none" stroke="#e8353c" stroke-width="2.6" stroke-linejoin="round" stroke-linecap="round"/>
<line x1="279.30" y1="447.90" x2="285.90" y2="447.90" stroke="#1c1c1c" stroke-width="1.5" />
<text x="273.50" y="451.40" font-size="11.5" text-anchor="end" fill="#111" >0</text>
<line x1="282.30" y1="427.67" x2="285.90" y2="427.67" stroke="#1c1c1c" stroke-width="1.5" />
<line x1="279.30" y1="407.45" x2="285.90" y2="407.45" stroke="#1c1c1c" stroke-width="1.5" />
<text x="273.50" y="410.95" font-size="11.5" text-anchor="end" fill="#111" >100</text>
<line x1="282.30" y1="387.23" x2="285.90" y2="387.23" stroke="#1c1c1c" stroke-width="1.5" />
<line x1="279.30" y1="367.00" x2="285.90" y2="367.00" stroke="#1c1c1c" stroke-width="1.5" />
<text x="273.50" y="370.50" font-size="11.5" text-anchor="end" fill="#111" >200</text>
<line x1="282.30" y1="346.78" x2="285.90" y2="346.78" stroke="#1c1c1c" stroke-width="1.5" />
<line x1="279.30" y1="326.55" x2="285.90" y2="326.55" stroke="#1c1c1c" stroke-width="1.5" />
<text x="273.50" y="330.05" font-size="11.5" text-anchor="end" fill="#111" >300</text>
<line x1="282.30" y1="306.33" x2="285.90" y2="306.33" stroke="#1c1c1c" stroke-width="1.5" />
<line x1="279.30" y1="286.10" x2="285.90" y2="286.10" stroke="#1c1c1c" stroke-width="1.5" />
<text x="273.50" y="289.60" font-size="11.5" text-anchor="end" fill="#111" >400</text>
<line x1="285.90" y1="447.90" x2="285.90" y2="454.70" stroke="#1c1c1c" stroke-width="1.5" />
<text x="285.90" y="468.70" font-size="11.4" text-anchor="middle" fill="#111" >0</text>
<line x1="303.86" y1="447.90" x2="303.86" y2="451.50" stroke="#1c1c1c" stroke-width="1.5" />
<line x1="321.81" y1="447.90" x2="321.81" y2="454.70" stroke="#1c1c1c" stroke-width="1.5" />
<text x="321.81" y="468.70" font-size="11.4" text-anchor="middle" fill="#111" >50</text>
<line x1="339.77" y1="447.90" x2="339.77" y2="451.50" stroke="#1c1c1c" stroke-width="1.5" />
<line x1="357.72" y1="447.90" x2="357.72" y2="454.70" stroke="#1c1c1c" stroke-width="1.5" />
<text x="357.72" y="468.70" font-size="11.4" text-anchor="middle" fill="#111" >100</text>
<line x1="375.68" y1="447.90" x2="375.68" y2="451.50" stroke="#1c1c1c" stroke-width="1.5" />
<line x1="393.63" y1="447.90" x2="393.63" y2="454.70" stroke="#1c1c1c" stroke-width="1.5" />
<text x="393.63" y="468.70" font-size="11.4" text-anchor="middle" fill="#111" >150</text>
<line x1="411.59" y1="447.90" x2="411.59" y2="451.50" stroke="#1c1c1c" stroke-width="1.5" />
<line x1="429.54" y1="447.90" x2="429.54" y2="454.70" stroke="#1c1c1c" stroke-width="1.5" />
<text x="429.54" y="468.70" font-size="11.4" text-anchor="middle" fill="#111" >200</text>
<line x1="447.50" y1="447.90" x2="447.50" y2="451.50" stroke="#1c1c1c" stroke-width="1.5" />
<rect x="285.90" y="286.10" width="161.60" height="161.80" fill="none" stroke="#1c1c1c" stroke-width="1.7"/>
<text x="363.70" y="487.90" font-size="13.5" text-anchor="middle" fill="#111" >Time (ps)</text>
<text x="0" y="0" font-size="13.6" text-anchor="middle" fill="#111" transform="translate(243.50,366.80) rotate(-90)">MSD (Å<tspan font-size="9.5" dy="-5.5">2</tspan><tspan dy="5.5">)</tspan></text>
<line x1="285.90" y1="294.80" x2="313.90" y2="294.80" stroke="#e8353c" stroke-width="2.6" />
<line x1="285.90" y1="311.10" x2="313.90" y2="311.10" stroke="#84e0a2" stroke-width="2.6" />
<text x="316.90" y="298.60" font-size="10.5" fill="#111">Na<tspan font-size="7.6" dy="-4.41">+</tspan></text>
<text x="316.90" y="314.90" font-size="10.5" fill="#111">K<tspan font-size="7.6" dy="-4.41">+</tspan></text>
<path d="M285.90,447.90 C286.62,447.02 288.69,444.09 290.21,442.64 C291.73,441.19 292.75,439.98 295.02,439.20 C297.30,438.43 299.71,438.43 303.86,437.99 C308.00,437.55 313.06,437.19 319.87,436.57 C326.68,435.96 335.18,435.43 344.72,434.31 C354.26,433.18 366.74,431.60 377.11,429.82 C387.49,428.04 398.19,425.63 406.99,423.63 C415.79,421.63 426.09,418.78 429.90,417.81" fill="none" stroke="#84e0a2" stroke-width="2.6" stroke-linejoin="round" stroke-linecap="round"/>
<path d="M285.90,447.90 C286.38,447.09 287.67,444.77 288.77,443.05 C289.87,441.33 290.42,439.86 292.51,437.59 C294.59,435.31 296.71,432.93 301.27,429.41 C305.83,425.90 313.44,420.73 319.87,416.51 C326.30,412.29 333.63,408.64 339.84,404.09 C346.05,399.54 350.94,394.98 357.15,389.21 C363.36,383.43 370.88,375.21 377.11,369.43 C383.35,363.64 388.76,360.30 394.57,354.50 C400.37,348.70 406.06,340.84 411.95,334.64 C417.84,328.44 426.91,320.18 429.90,317.29" fill="none" stroke="#e8353c" stroke-width="2.6" stroke-linejoin="round" stroke-linecap="round"/>
<circle cx="147.12" cy="74.54" r="1.50" fill="url(#gHw)" />
<circle cx="142.34" cy="74.81" r="2.50" fill="url(#gC)" />
<circle cx="145.23" cy="76.43" r="2.50" fill="url(#gC)" />
<circle cx="148.04" cy="78.09" r="2.50" fill="url(#gC)" />
<circle cx="139.71" cy="76.46" r="2.50" fill="url(#gC)" />
<circle cx="134.53" cy="79.69" r="2.50" fill="url(#gC)" />
<circle cx="142.60" cy="78.07" r="2.50" fill="url(#gC)" />
<circle cx="137.16" cy="78.05" r="2.50" fill="url(#gC)" />
<circle cx="139.97" cy="79.71" r="2.50" fill="url(#gC)" />
<circle cx="145.41" cy="79.73" r="2.50" fill="url(#gC)" />
<circle cx="131.91" cy="81.33" r="2.50" fill="url(#gC)" />
<circle cx="142.78" cy="81.38" r="2.50" fill="url(#gC)" />
<circle cx="137.34" cy="81.35" r="2.50" fill="url(#gC)" />
<circle cx="150.43" cy="82.27" r="2.50" fill="url(#gC)" />
<circle cx="123.80" cy="80.79" r="1.50" fill="url(#gHw)" />
<circle cx="127.34" cy="81.77" r="2.50" fill="url(#gC)" />
<circle cx="134.71" cy="83.00" r="2.50" fill="url(#gC)" />
<circle cx="137.61" cy="84.61" r="2.50" fill="url(#gC)" />
<circle cx="140.24" cy="82.97" r="2.50" fill="url(#gC)" />
<circle cx="147.81" cy="84.84" r="1.50" fill="url(#gHw)" />
<circle cx="124.49" cy="83.37" r="2.50" fill="url(#gC)" />
<circle cx="121.65" cy="85.07" r="2.50" fill="url(#gC)" />
<circle cx="127.44" cy="84.87" r="2.50" fill="url(#gC)" />
<circle cx="153.16" cy="83.72" r="2.50" fill="url(#gC)" />
<circle cx="158.55" cy="86.59" r="2.50" fill="url(#gC)" />
<circle cx="132.83" cy="84.88" r="1.50" fill="url(#gHw)" />
<circle cx="150.39" cy="85.53" r="2.50" fill="url(#gC)" />
<circle cx="155.90" cy="85.18" r="2.50" fill="url(#gC)" />
<circle cx="161.29" cy="88.04" r="2.50" fill="url(#gC)" />
<circle cx="124.60" cy="86.47" r="2.50" fill="url(#gC)" />
<circle cx="150.44" cy="88.84" r="2.50" fill="url(#gC)" />
<circle cx="121.76" cy="88.17" r="2.50" fill="url(#gC)" />
<circle cx="124.71" cy="89.57" r="2.50" fill="url(#gC)" />
<circle cx="155.86" cy="88.44" r="2.50" fill="url(#gC)" />
<circle cx="153.13" cy="86.99" r="2.50" fill="url(#gC)" />
<circle cx="127.55" cy="87.97" r="2.50" fill="url(#gC)" />
<circle cx="158.60" cy="89.90" r="2.50" fill="url(#gC)" />
<circle cx="153.18" cy="90.30" r="2.50" fill="url(#gC)" />
<circle cx="161.34" cy="91.35" r="2.50" fill="url(#gC)" />
<circle cx="121.86" cy="91.17" r="2.50" fill="url(#gC)" />
<circle cx="155.83" cy="91.71" r="2.50" fill="url(#gC)" />
<circle cx="127.66" cy="90.97" r="2.50" fill="url(#gC)" />
<circle cx="163.92" cy="92.05" r="1.50" fill="url(#gHw)" />
<circle cx="158.56" cy="93.16" r="2.50" fill="url(#gC)" />
<circle cx="161.30" cy="94.62" r="2.50" fill="url(#gC)" />
<circle cx="124.82" cy="92.67" r="2.50" fill="url(#gC)" />
<circle cx="127.77" cy="94.06" r="2.50" fill="url(#gC)" />
<circle cx="121.97" cy="94.27" r="2.50" fill="url(#gC)" />
<circle cx="124.92" cy="95.76" r="2.50" fill="url(#gC)" />
<circle cx="125.61" cy="98.34" r="1.50" fill="url(#gHw)" />
<circle cx="122.08" cy="97.36" r="2.50" fill="url(#gC)" />
<circle cx="155.59" cy="98.26" r="1.50" fill="url(#gHw)" />
<circle cx="159.12" cy="99.24" r="2.50" fill="url(#gC)" />
<circle cx="156.28" cy="100.84" r="2.50" fill="url(#gC)" />
<circle cx="159.23" cy="102.33" r="2.50" fill="url(#gC)" />
<circle cx="153.43" cy="102.54" r="2.50" fill="url(#gC)" />
<circle cx="119.90" cy="101.98" r="2.50" fill="url(#gC)" />
<circle cx="156.38" cy="103.93" r="2.50" fill="url(#gC)" />
<circle cx="159.34" cy="105.43" r="2.50" fill="url(#gC)" />
<circle cx="122.64" cy="103.44" r="2.50" fill="url(#gC)" />
<circle cx="117.28" cy="104.55" r="1.50" fill="url(#gHw)" />
<circle cx="119.86" cy="105.25" r="2.50" fill="url(#gC)" />
<circle cx="153.54" cy="105.63" r="2.50" fill="url(#gC)" />
<circle cx="128.02" cy="106.30" r="2.50" fill="url(#gC)" />
<circle cx="125.37" cy="104.89" r="2.50" fill="url(#gC)" />
<circle cx="130.76" cy="107.76" r="2.50" fill="url(#gC)" />
<circle cx="122.60" cy="106.70" r="2.50" fill="url(#gC)" />
<circle cx="119.91" cy="108.56" r="2.50" fill="url(#gC)" />
<circle cx="156.49" cy="107.03" r="2.50" fill="url(#gC)" />
<circle cx="153.65" cy="108.63" r="2.50" fill="url(#gC)" />
<circle cx="159.44" cy="108.43" r="2.50" fill="url(#gC)" />
<circle cx="125.34" cy="108.16" r="2.50" fill="url(#gC)" />
<circle cx="130.81" cy="111.07" r="2.50" fill="url(#gC)" />
<circle cx="122.65" cy="110.01" r="2.50" fill="url(#gC)" />
<circle cx="128.07" cy="109.61" r="2.50" fill="url(#gC)" />
<circle cx="133.39" cy="111.76" r="1.50" fill="url(#gHw)" />
<circle cx="143.59" cy="111.99" r="2.50" fill="url(#gC)" />
<circle cx="125.30" cy="111.42" r="2.50" fill="url(#gC)" />
<circle cx="156.60" cy="110.13" r="2.50" fill="url(#gC)" />
<circle cx="159.55" cy="111.53" r="2.50" fill="url(#gC)" />
<circle cx="148.37" cy="111.72" r="1.50" fill="url(#gHw)" />
<circle cx="156.71" cy="113.23" r="2.50" fill="url(#gC)" />
<circle cx="128.04" cy="112.88" r="2.50" fill="url(#gC)" />
<circle cx="153.76" cy="111.73" r="2.50" fill="url(#gC)" />
<circle cx="140.96" cy="113.63" r="2.50" fill="url(#gC)" />
<circle cx="143.86" cy="115.25" r="2.50" fill="url(#gC)" />
<circle cx="146.49" cy="113.60" r="2.50" fill="url(#gC)" />
<circle cx="153.86" cy="114.83" r="2.50" fill="url(#gC)" />
<circle cx="149.29" cy="115.27" r="2.50" fill="url(#gC)" />
<circle cx="157.40" cy="115.81" r="1.50" fill="url(#gHw)" />
<circle cx="130.77" cy="114.33" r="2.50" fill="url(#gC)" />
<circle cx="138.42" cy="115.22" r="2.50" fill="url(#gC)" />
<circle cx="141.23" cy="116.89" r="2.50" fill="url(#gC)" />
<circle cx="146.67" cy="116.91" r="2.50" fill="url(#gC)" />
<circle cx="135.79" cy="116.87" r="2.50" fill="url(#gC)" />
<circle cx="133.16" cy="118.51" r="2.50" fill="url(#gC)" />
<circle cx="138.60" cy="118.53" r="2.50" fill="url(#gC)" />
<circle cx="144.04" cy="118.55" r="2.50" fill="url(#gC)" />
<circle cx="135.97" cy="120.17" r="2.50" fill="url(#gC)" />
<circle cx="141.49" cy="120.14" r="2.50" fill="url(#gC)" />
<circle cx="138.86" cy="121.79" r="2.50" fill="url(#gC)" />
<circle cx="134.08" cy="122.06" r="1.50" fill="url(#gHw)" />
<circle cx="139.23" cy="73.81" r="2.30" fill="url(#gO)" />
<circle cx="140.71" cy="85.62" r="2.30" fill="url(#gO)" />
<circle cx="132.83" cy="86.77" r="2.30" fill="url(#gN)" />
<circle cx="147.12" cy="72.65" r="2.30" fill="url(#gN)" />
<circle cx="160.61" cy="84.85" r="2.30" fill="url(#gO)" />
<circle cx="151.12" cy="92.04" r="2.30" fill="url(#gO)" />
<circle cx="146.18" cy="85.79" r="2.30" fill="url(#gN)" />
<circle cx="165.55" cy="91.10" r="2.30" fill="url(#gN)" />
<circle cx="161.98" cy="109.34" r="2.30" fill="url(#gO)" />
<circle cx="151.01" cy="104.72" r="2.30" fill="url(#gO)" />
<circle cx="153.95" cy="97.31" r="2.30" fill="url(#gN)" />
<circle cx="159.03" cy="116.75" r="2.30" fill="url(#gN)" />
<circle cx="141.97" cy="122.79" r="2.30" fill="url(#gO)" />
<circle cx="140.49" cy="110.98" r="2.30" fill="url(#gO)" />
<circle cx="148.37" cy="109.83" r="2.30" fill="url(#gN)" />
<circle cx="134.08" cy="123.95" r="2.30" fill="url(#gN)" />
<circle cx="120.59" cy="111.75" r="2.30" fill="url(#gO)" />
<circle cx="130.08" cy="104.56" r="2.30" fill="url(#gO)" />
<circle cx="135.02" cy="110.81" r="2.30" fill="url(#gN)" />
<circle cx="115.65" cy="105.50" r="2.30" fill="url(#gN)" />
<circle cx="119.22" cy="87.26" r="2.30" fill="url(#gO)" />
<circle cx="130.19" cy="91.88" r="2.30" fill="url(#gO)" />
<circle cx="127.25" cy="99.29" r="2.30" fill="url(#gN)" />
<circle cx="122.17" cy="79.85" r="2.30" fill="url(#gN)" />
<circle cx="140.60" cy="98.30" r="6.50" fill="url(#gHaloS)" />
<circle cx="140.60" cy="98.30" r="3.10" fill="url(#gCore2)" />
<circle cx="602.12" cy="70.84" r="1.50" fill="url(#gHw)" />
<circle cx="597.34" cy="71.11" r="2.50" fill="url(#gC)" />
<circle cx="600.23" cy="72.73" r="2.50" fill="url(#gC)" />
<circle cx="594.71" cy="72.76" r="2.50" fill="url(#gC)" />
<circle cx="603.04" cy="74.39" r="2.50" fill="url(#gC)" />
<circle cx="592.16" cy="74.35" r="2.50" fill="url(#gC)" />
<circle cx="594.97" cy="76.01" r="2.50" fill="url(#gC)" />
<circle cx="589.53" cy="75.99" r="2.50" fill="url(#gC)" />
<circle cx="597.60" cy="74.37" r="2.50" fill="url(#gC)" />
<circle cx="592.34" cy="77.65" r="2.50" fill="url(#gC)" />
<circle cx="600.41" cy="76.03" r="2.50" fill="url(#gC)" />
<circle cx="578.80" cy="77.09" r="1.50" fill="url(#gHw)" />
<circle cx="597.78" cy="77.68" r="2.50" fill="url(#gC)" />
<circle cx="582.34" cy="78.07" r="2.50" fill="url(#gC)" />
<circle cx="586.91" cy="77.63" r="2.50" fill="url(#gC)" />
<circle cx="589.71" cy="79.30" r="2.50" fill="url(#gC)" />
<circle cx="605.43" cy="78.57" r="2.50" fill="url(#gC)" />
<circle cx="592.61" cy="80.91" r="2.50" fill="url(#gC)" />
<circle cx="587.83" cy="81.18" r="1.50" fill="url(#gHw)" />
<circle cx="576.65" cy="81.37" r="2.50" fill="url(#gC)" />
<circle cx="605.39" cy="81.83" r="2.50" fill="url(#gC)" />
<circle cx="595.24" cy="79.27" r="2.50" fill="url(#gC)" />
<circle cx="579.49" cy="79.67" r="2.50" fill="url(#gC)" />
<circle cx="582.44" cy="81.17" r="2.50" fill="url(#gC)" />
<circle cx="602.81" cy="81.14" r="1.50" fill="url(#gHw)" />
<circle cx="608.16" cy="80.02" r="2.50" fill="url(#gC)" />
<circle cx="579.60" cy="82.77" r="2.50" fill="url(#gC)" />
<circle cx="610.90" cy="81.48" r="2.50" fill="url(#gC)" />
<circle cx="576.76" cy="84.47" r="2.50" fill="url(#gC)" />
<circle cx="613.55" cy="82.89" r="2.50" fill="url(#gC)" />
<circle cx="608.13" cy="83.29" r="2.50" fill="url(#gC)" />
<circle cx="579.71" cy="85.87" r="2.50" fill="url(#gC)" />
<circle cx="616.29" cy="84.34" r="2.50" fill="url(#gC)" />
<circle cx="610.86" cy="84.74" r="2.50" fill="url(#gC)" />
<circle cx="582.55" cy="84.27" r="2.50" fill="url(#gC)" />
<circle cx="613.60" cy="86.20" r="2.50" fill="url(#gC)" />
<circle cx="605.44" cy="85.14" r="2.50" fill="url(#gC)" />
<circle cx="616.34" cy="87.65" r="2.50" fill="url(#gC)" />
<circle cx="608.18" cy="86.60" r="2.50" fill="url(#gC)" />
<circle cx="576.86" cy="87.47" r="2.50" fill="url(#gC)" />
<circle cx="582.66" cy="87.27" r="2.50" fill="url(#gC)" />
<circle cx="610.83" cy="88.01" r="2.50" fill="url(#gC)" />
<circle cx="618.92" cy="88.35" r="1.50" fill="url(#gHw)" />
<circle cx="576.97" cy="90.57" r="2.50" fill="url(#gC)" />
<circle cx="579.82" cy="88.97" r="2.50" fill="url(#gC)" />
<circle cx="582.77" cy="90.36" r="2.50" fill="url(#gC)" />
<circle cx="613.56" cy="89.46" r="2.50" fill="url(#gC)" />
<circle cx="616.30" cy="90.92" r="2.50" fill="url(#gC)" />
<circle cx="579.92" cy="92.06" r="2.50" fill="url(#gC)" />
<circle cx="577.08" cy="93.66" r="2.50" fill="url(#gC)" />
<circle cx="580.61" cy="94.64" r="1.50" fill="url(#gHw)" />
<circle cx="610.59" cy="94.56" r="1.50" fill="url(#gHw)" />
<circle cx="614.12" cy="95.54" r="2.50" fill="url(#gC)" />
<circle cx="611.28" cy="97.14" r="2.50" fill="url(#gC)" />
<circle cx="608.43" cy="98.84" r="2.50" fill="url(#gC)" />
<circle cx="614.23" cy="98.63" r="2.50" fill="url(#gC)" />
<circle cx="611.38" cy="100.23" r="2.50" fill="url(#gC)" />
<circle cx="574.90" cy="98.28" r="2.50" fill="url(#gC)" />
<circle cx="572.28" cy="100.85" r="1.50" fill="url(#gHw)" />
<circle cx="580.37" cy="101.19" r="2.50" fill="url(#gC)" />
<circle cx="577.64" cy="99.74" r="2.50" fill="url(#gC)" />
<circle cx="577.60" cy="103.00" r="2.50" fill="url(#gC)" />
<circle cx="574.86" cy="101.55" r="2.50" fill="url(#gC)" />
<circle cx="608.54" cy="101.93" r="2.50" fill="url(#gC)" />
<circle cx="585.76" cy="104.06" r="2.50" fill="url(#gC)" />
<circle cx="614.34" cy="101.73" r="2.50" fill="url(#gC)" />
<circle cx="583.02" cy="102.60" r="2.50" fill="url(#gC)" />
<circle cx="574.91" cy="104.86" r="2.50" fill="url(#gC)" />
<circle cx="608.65" cy="104.93" r="2.50" fill="url(#gC)" />
<circle cx="611.49" cy="103.33" r="2.50" fill="url(#gC)" />
<circle cx="580.34" cy="104.46" r="2.50" fill="url(#gC)" />
<circle cx="614.44" cy="104.73" r="2.50" fill="url(#gC)" />
<circle cx="577.65" cy="106.31" r="2.50" fill="url(#gC)" />
<circle cx="611.60" cy="106.43" r="2.50" fill="url(#gC)" />
<circle cx="614.55" cy="107.83" r="2.50" fill="url(#gC)" />
<circle cx="583.07" cy="105.91" r="2.50" fill="url(#gC)" />
<circle cx="585.81" cy="107.37" r="2.50" fill="url(#gC)" />
<circle cx="608.76" cy="108.03" r="2.50" fill="url(#gC)" />
<circle cx="583.04" cy="109.18" r="2.50" fill="url(#gC)" />
<circle cx="580.30" cy="107.72" r="2.50" fill="url(#gC)" />
<circle cx="601.49" cy="109.90" r="2.50" fill="url(#gC)" />
<circle cx="598.59" cy="108.29" r="2.50" fill="url(#gC)" />
<circle cx="595.96" cy="109.93" r="2.50" fill="url(#gC)" />
<circle cx="603.37" cy="108.02" r="1.50" fill="url(#gHw)" />
<circle cx="588.39" cy="108.06" r="1.50" fill="url(#gHw)" />
<circle cx="611.71" cy="109.53" r="2.50" fill="url(#gC)" />
<circle cx="604.29" cy="111.57" r="2.50" fill="url(#gC)" />
<circle cx="585.77" cy="110.63" r="2.50" fill="url(#gC)" />
<circle cx="608.86" cy="111.13" r="2.50" fill="url(#gC)" />
<circle cx="593.42" cy="111.52" r="2.50" fill="url(#gC)" />
<circle cx="598.86" cy="111.55" r="2.50" fill="url(#gC)" />
<circle cx="612.40" cy="112.11" r="1.50" fill="url(#gHw)" />
<circle cx="590.79" cy="113.17" r="2.50" fill="url(#gC)" />
<circle cx="588.16" cy="114.81" r="2.50" fill="url(#gC)" />
<circle cx="601.67" cy="113.21" r="2.50" fill="url(#gC)" />
<circle cx="596.23" cy="113.19" r="2.50" fill="url(#gC)" />
<circle cx="599.04" cy="114.85" r="2.50" fill="url(#gC)" />
<circle cx="593.60" cy="114.83" r="2.50" fill="url(#gC)" />
<circle cx="590.97" cy="116.47" r="2.50" fill="url(#gC)" />
<circle cx="596.49" cy="116.44" r="2.50" fill="url(#gC)" />
<circle cx="593.86" cy="118.09" r="2.50" fill="url(#gC)" />
<circle cx="589.08" cy="118.36" r="1.50" fill="url(#gHw)" />
<circle cx="594.23" cy="70.11" r="2.30" fill="url(#gO)" />
<circle cx="595.71" cy="81.92" r="2.30" fill="url(#gO)" />
<circle cx="587.83" cy="83.07" r="2.30" fill="url(#gN)" />
<circle cx="602.12" cy="68.95" r="2.30" fill="url(#gN)" />
<circle cx="615.61" cy="81.15" r="2.30" fill="url(#gO)" />
<circle cx="606.12" cy="88.34" r="2.30" fill="url(#gO)" />
<circle cx="601.18" cy="82.09" r="2.30" fill="url(#gN)" />
<circle cx="620.55" cy="87.40" r="2.30" fill="url(#gN)" />
<circle cx="616.98" cy="105.64" r="2.30" fill="url(#gO)" />
<circle cx="606.01" cy="101.02" r="2.30" fill="url(#gO)" />
<circle cx="608.95" cy="93.61" r="2.30" fill="url(#gN)" />
<circle cx="614.03" cy="113.05" r="2.30" fill="url(#gN)" />
<circle cx="596.97" cy="119.09" r="2.30" fill="url(#gO)" />
<circle cx="595.49" cy="107.28" r="2.30" fill="url(#gO)" />
<circle cx="603.37" cy="106.13" r="2.30" fill="url(#gN)" />
<circle cx="589.08" cy="120.25" r="2.30" fill="url(#gN)" />
<circle cx="575.59" cy="108.05" r="2.30" fill="url(#gO)" />
<circle cx="585.08" cy="100.86" r="2.30" fill="url(#gO)" />
<circle cx="590.02" cy="107.11" r="2.30" fill="url(#gN)" />
<circle cx="570.65" cy="101.80" r="2.30" fill="url(#gN)" />
<circle cx="574.22" cy="83.56" r="2.30" fill="url(#gO)" />
<circle cx="585.19" cy="88.18" r="2.30" fill="url(#gO)" />
<circle cx="582.25" cy="95.59" r="2.30" fill="url(#gN)" />
<circle cx="577.17" cy="76.15" r="2.30" fill="url(#gN)" />
<circle cx="604.10" cy="94.60" r="1.80" fill="url(#gC)" />
<circle cx="602.96" cy="98.85" r="1.80" fill="url(#gHw)" />
<circle cx="599.85" cy="101.96" r="1.80" fill="url(#gC)" />
<circle cx="595.60" cy="103.10" r="1.80" fill="url(#gHw)" />
<circle cx="591.35" cy="101.96" r="1.80" fill="url(#gC)" />
<circle cx="588.24" cy="98.85" r="1.80" fill="url(#gHw)" />
<circle cx="587.10" cy="94.60" r="1.80" fill="url(#gC)" />
<circle cx="588.24" cy="90.35" r="1.80" fill="url(#gHw)" />
<circle cx="591.35" cy="87.24" r="1.80" fill="url(#gC)" />
<circle cx="595.60" cy="86.10" r="1.80" fill="url(#gHw)" />
<circle cx="599.85" cy="87.24" r="1.80" fill="url(#gC)" />
<circle cx="602.96" cy="90.35" r="1.80" fill="url(#gHw)" />
<circle cx="600.80" cy="97.60" r="1.30" fill="url(#gO)" />
<circle cx="595.60" cy="100.60" r="1.30" fill="url(#gO)" />
<circle cx="590.40" cy="97.60" r="1.30" fill="url(#gO)" />
<circle cx="590.40" cy="91.60" r="1.30" fill="url(#gO)" />
<circle cx="595.60" cy="88.60" r="1.30" fill="url(#gO)" />
<circle cx="600.80" cy="91.60" r="1.30" fill="url(#gO)" />
<circle cx="595.60" cy="94.60" r="4.50" fill="url(#gHaloS)" />
<circle cx="595.60" cy="94.60" r="2.80" fill="url(#gCore2)" />
<path d="M368.27,83.38 L371.78,83.96 L373.59,87.79 L375.62,90.96 L376.97,95.00 L375.17,98.83 L373.95,102.58 L371.78,106.04 L368.18,106.04 L364.93,106.62 L361.42,106.04 L359.61,102.21 L357.58,99.04 L356.23,95.00 L358.03,91.17 L359.25,87.42 L361.42,83.96 L365.02,83.96 Z" fill="none" stroke="#6e6e6e" stroke-width="2.2" stroke-linejoin="round"/>
<circle cx="368.27" cy="83.38" r="2.00" fill="url(#gO)" />
<line x1="371.78" y1="83.96" x2="373.60" y2="80.80" stroke="#8a8a8a" stroke-width="1.2" />
<circle cx="373.60" cy="80.80" r="2.10" fill="url(#gHw2)" />
<circle cx="371.78" cy="83.96" r="1.70" fill="url(#gC)" />
<line x1="373.59" y1="87.79" x2="377.32" y2="84.46" stroke="#8a8a8a" stroke-width="1.2" />
<circle cx="377.32" cy="84.46" r="2.10" fill="url(#gHw2)" />
<circle cx="373.59" cy="87.79" r="1.70" fill="url(#gC)" />
<circle cx="375.62" cy="90.96" r="2.00" fill="url(#gO)" />
<line x1="376.97" y1="95.00" x2="380.60" y2="95.00" stroke="#8a8a8a" stroke-width="1.2" />
<circle cx="380.60" cy="95.00" r="2.10" fill="url(#gHw2)" />
<circle cx="376.97" cy="95.00" r="1.70" fill="url(#gC)" />
<line x1="375.17" y1="98.83" x2="379.76" y2="100.61" stroke="#8a8a8a" stroke-width="1.2" />
<circle cx="379.76" cy="100.61" r="2.10" fill="url(#gHw2)" />
<circle cx="375.17" cy="98.83" r="1.70" fill="url(#gC)" />
<circle cx="373.95" cy="102.58" r="2.00" fill="url(#gO)" />
<line x1="371.78" y1="106.04" x2="373.60" y2="109.20" stroke="#8a8a8a" stroke-width="1.2" />
<circle cx="373.60" cy="109.20" r="2.10" fill="url(#gHw2)" />
<circle cx="371.78" cy="106.04" r="1.70" fill="url(#gC)" />
<line x1="368.18" y1="106.04" x2="369.03" y2="111.15" stroke="#8a8a8a" stroke-width="1.2" />
<circle cx="369.03" cy="111.15" r="2.10" fill="url(#gHw2)" />
<circle cx="368.18" cy="106.04" r="1.70" fill="url(#gC)" />
<circle cx="364.93" cy="106.62" r="2.00" fill="url(#gO)" />
<line x1="361.42" y1="106.04" x2="359.60" y2="109.20" stroke="#8a8a8a" stroke-width="1.2" />
<circle cx="359.60" cy="109.20" r="2.10" fill="url(#gHw2)" />
<circle cx="361.42" cy="106.04" r="1.70" fill="url(#gC)" />
<line x1="359.61" y1="102.21" x2="355.88" y2="105.54" stroke="#8a8a8a" stroke-width="1.2" />
<circle cx="355.88" cy="105.54" r="2.10" fill="url(#gHw2)" />
<circle cx="359.61" cy="102.21" r="1.70" fill="url(#gC)" />
<circle cx="357.58" cy="99.04" r="2.00" fill="url(#gO)" />
<line x1="356.23" y1="95.00" x2="352.60" y2="95.00" stroke="#8a8a8a" stroke-width="1.2" />
<circle cx="352.60" cy="95.00" r="2.10" fill="url(#gHw2)" />
<circle cx="356.23" cy="95.00" r="1.70" fill="url(#gC)" />
<line x1="358.03" y1="91.17" x2="353.44" y2="89.39" stroke="#8a8a8a" stroke-width="1.2" />
<circle cx="353.44" cy="89.39" r="2.10" fill="url(#gHw2)" />
<circle cx="358.03" cy="91.17" r="1.70" fill="url(#gC)" />
<circle cx="359.25" cy="87.42" r="2.00" fill="url(#gO)" />
<line x1="361.42" y1="83.96" x2="359.60" y2="80.80" stroke="#8a8a8a" stroke-width="1.2" />
<circle cx="359.60" cy="80.80" r="2.10" fill="url(#gHw2)" />
<circle cx="361.42" cy="83.96" r="1.70" fill="url(#gC)" />
<line x1="365.02" y1="83.96" x2="364.17" y2="78.85" stroke="#8a8a8a" stroke-width="1.2" />
<circle cx="364.17" cy="78.85" r="2.10" fill="url(#gHw2)" />
<circle cx="365.02" cy="83.96" r="1.70" fill="url(#gC)" />
<circle cx="366.60" cy="95.00" r="4.00" fill="url(#gCore3)" />
<polygon points="456.8,323.4 488.8,290.5 680.8,290.5 648.8,323.4" fill="#dfe7f3"/>
<polygon points="648.8,323.4 680.8,290.5 680.8,388.90000000000003 648.8,421.8" fill="#c9d1de"/>
<rect x="456.8" y="323.4" width="191.99999999999994" height="98.40000000000003" fill="#dbe4f1"/>
<line x1="456.8" y1="323.4" x2="648.8" y2="323.4" stroke="#e9eff8" stroke-width="1"/>
<clipPath id="cpF"><polygon points="456.8,421.8 456.8,323.4 488.8,290.5 680.8,290.5 648.8,323.4 648.8,421.8"/></clipPath><g clip-path="url(#cpF)">
<circle cx="507.92" cy="296.19" r="2.94" fill="url(#gW)" />
<circle cx="498.23" cy="299.00" r="2.94" fill="url(#gW)" />
<circle cx="502.57" cy="295.85" r="3.92" fill="url(#gW)" />
<circle cx="534.64" cy="293.05" r="2.94" fill="url(#gW)" />
<circle cx="526.09" cy="298.40" r="2.94" fill="url(#gW)" />
<circle cx="529.40" cy="294.18" r="3.92" fill="url(#gW)" />
<circle cx="598.18" cy="297.00" r="2.94" fill="url(#gW)" />
<circle cx="588.39" cy="294.59" r="2.94" fill="url(#gW)" />
<circle cx="593.72" cy="294.03" r="3.92" fill="url(#gW)" />
<circle cx="621.21" cy="301.55" r="2.94" fill="url(#gW)" />
<circle cx="613.39" cy="307.92" r="2.94" fill="url(#gW)" />
<circle cx="616.15" cy="303.32" r="3.92" fill="url(#gW)" />
<circle cx="641.85" cy="301.53" r="2.94" fill="url(#gW)" />
<circle cx="631.79" cy="300.95" r="2.94" fill="url(#gW)" />
<circle cx="636.93" cy="299.42" r="3.92" fill="url(#gW)" />
<circle cx="665.43" cy="294.72" r="2.94" fill="url(#gW)" />
<circle cx="655.58" cy="296.87" r="2.94" fill="url(#gW)" />
<circle cx="660.12" cy="294.02" r="3.92" fill="url(#gW)" />
<circle cx="485.39" cy="314.12" r="2.94" fill="url(#gW)" />
<circle cx="477.73" cy="320.67" r="2.94" fill="url(#gW)" />
<circle cx="480.38" cy="316.01" r="3.92" fill="url(#gW)" />
<circle cx="513.38" cy="319.40" r="2.94" fill="url(#gW)" />
<circle cx="503.30" cy="319.28" r="2.94" fill="url(#gW)" />
<circle cx="508.36" cy="317.52" r="3.92" fill="url(#gW)" />
<circle cx="541.41" cy="312.17" r="2.94" fill="url(#gW)" />
<circle cx="533.96" cy="318.97" r="2.94" fill="url(#gW)" />
<circle cx="536.46" cy="314.23" r="3.92" fill="url(#gW)" />
<circle cx="574.96" cy="307.94" r="2.94" fill="url(#gW)" />
<circle cx="564.93" cy="309.01" r="2.94" fill="url(#gW)" />
<circle cx="569.75" cy="306.67" r="3.92" fill="url(#gW)" />
<circle cx="588.61" cy="312.39" r="2.94" fill="url(#gW)" />
<circle cx="580.83" cy="318.79" r="2.94" fill="url(#gW)" />
<circle cx="583.57" cy="314.19" r="3.92" fill="url(#gW)" />
<circle cx="604.99" cy="316.15" r="2.94" fill="url(#gW)" />
<circle cx="597.00" cy="322.29" r="2.94" fill="url(#gW)" />
<circle cx="599.89" cy="317.78" r="3.92" fill="url(#gW)" />
<circle cx="627.45" cy="315.11" r="2.94" fill="url(#gW)" />
<circle cx="617.44" cy="316.32" r="2.94" fill="url(#gW)" />
<circle cx="622.22" cy="313.91" r="3.92" fill="url(#gW)" />
<circle cx="646.37" cy="314.54" r="2.94" fill="url(#gW)" />
<circle cx="637.64" cy="309.51" r="2.94" fill="url(#gW)" />
<circle cx="642.91" cy="310.45" r="3.92" fill="url(#gW)" />
<circle cx="469.38" cy="325.44" r="2.94" fill="url(#gW)" />
<circle cx="461.07" cy="331.14" r="2.94" fill="url(#gW)" />
<circle cx="464.20" cy="326.79" r="3.92" fill="url(#gW)" />
<circle cx="498.66" cy="333.41" r="2.94" fill="url(#gW)" />
<circle cx="489.55" cy="337.73" r="2.94" fill="url(#gW)" />
<circle cx="493.33" cy="333.93" r="3.92" fill="url(#gW)" />
<circle cx="522.22" cy="336.64" r="2.94" fill="url(#gW)" />
<circle cx="512.35" cy="334.60" r="2.94" fill="url(#gW)" />
<circle cx="517.65" cy="333.83" r="3.92" fill="url(#gW)" />
<circle cx="544.36" cy="331.56" r="2.94" fill="url(#gW)" />
<circle cx="536.76" cy="324.94" r="2.94" fill="url(#gW)" />
<circle cx="541.75" cy="326.88" r="3.92" fill="url(#gW)" />
<circle cx="573.01" cy="325.38" r="2.94" fill="url(#gW)" />
<circle cx="563.01" cy="324.14" r="2.94" fill="url(#gW)" />
<circle cx="568.23" cy="322.96" r="3.92" fill="url(#gW)" />
<circle cx="591.24" cy="331.17" r="2.94" fill="url(#gW)" />
<circle cx="581.30" cy="332.83" r="2.94" fill="url(#gW)" />
<circle cx="585.97" cy="330.21" r="3.92" fill="url(#gW)" />
<circle cx="598.49" cy="344.38" r="2.94" fill="url(#gW)" />
<circle cx="591.19" cy="337.42" r="2.94" fill="url(#gW)" />
<circle cx="596.10" cy="339.59" r="3.92" fill="url(#gW)" />
<circle cx="630.14" cy="324.90" r="2.94" fill="url(#gW)" />
<circle cx="622.60" cy="331.59" r="2.94" fill="url(#gW)" />
<circle cx="625.16" cy="326.89" r="3.92" fill="url(#gW)" />
<circle cx="646.21" cy="331.03" r="2.94" fill="url(#gW)" />
<circle cx="637.75" cy="325.56" r="2.94" fill="url(#gW)" />
<circle cx="642.97" cy="326.77" r="3.92" fill="url(#gW)" />
<circle cx="471.66" cy="348.41" r="2.94" fill="url(#gW)" />
<circle cx="462.15" cy="351.74" r="2.94" fill="url(#gW)" />
<circle cx="466.30" cy="348.36" r="3.92" fill="url(#gW)" />
<circle cx="496.61" cy="359.97" r="2.94" fill="url(#gW)" />
<circle cx="488.12" cy="365.41" r="2.94" fill="url(#gW)" />
<circle cx="491.38" cy="361.16" r="3.92" fill="url(#gW)" />
<circle cx="525.47" cy="338.06" r="2.94" fill="url(#gW)" />
<circle cx="517.21" cy="343.85" r="2.94" fill="url(#gW)" />
<circle cx="520.29" cy="339.47" r="3.92" fill="url(#gW)" />
<circle cx="535.04" cy="357.61" r="2.94" fill="url(#gW)" />
<circle cx="525.43" cy="360.65" r="2.94" fill="url(#gW)" />
<circle cx="529.69" cy="357.40" r="3.92" fill="url(#gW)" />
<circle cx="519.73" cy="372.39" r="2.94" fill="url(#gW)" />
<circle cx="510.91" cy="367.50" r="2.94" fill="url(#gW)" />
<circle cx="516.20" cy="368.35" r="3.92" fill="url(#gW)" />
<circle cx="574.56" cy="363.86" r="2.94" fill="url(#gW)" />
<circle cx="565.76" cy="368.79" r="2.94" fill="url(#gW)" />
<circle cx="569.27" cy="364.74" r="3.92" fill="url(#gW)" />
<circle cx="583.86" cy="356.19" r="2.94" fill="url(#gW)" />
<circle cx="573.87" cy="354.88" r="2.94" fill="url(#gW)" />
<circle cx="579.10" cy="353.73" r="3.92" fill="url(#gW)" />
<circle cx="610.88" cy="356.63" r="2.94" fill="url(#gW)" />
<circle cx="601.05" cy="354.41" r="2.94" fill="url(#gW)" />
<circle cx="606.36" cy="353.75" r="3.92" fill="url(#gW)" />
<circle cx="631.04" cy="345.45" r="2.94" fill="url(#gW)" />
<circle cx="621.17" cy="347.50" r="2.94" fill="url(#gW)" />
<circle cx="625.74" cy="344.69" r="3.92" fill="url(#gW)" />
<circle cx="638.22" cy="370.40" r="2.94" fill="url(#gW)" />
<circle cx="628.17" cy="369.63" r="2.94" fill="url(#gW)" />
<circle cx="633.33" cy="368.20" r="3.92" fill="url(#gW)" />
<circle cx="650.12" cy="359.40" r="2.94" fill="url(#gW)" />
<circle cx="642.41" cy="365.89" r="2.94" fill="url(#gW)" />
<circle cx="645.09" cy="361.25" r="3.92" fill="url(#gW)" />
<circle cx="613.91" cy="370.24" r="2.94" fill="url(#gW)" />
<circle cx="606.23" cy="376.77" r="2.94" fill="url(#gW)" />
<circle cx="608.89" cy="372.12" r="3.92" fill="url(#gW)" />
<circle cx="478.71" cy="376.72" r="2.94" fill="url(#gW)" />
<circle cx="469.72" cy="381.29" r="2.94" fill="url(#gW)" />
<circle cx="473.39" cy="377.38" r="3.92" fill="url(#gW)" />
<circle cx="498.54" cy="391.34" r="2.94" fill="url(#gW)" />
<circle cx="488.88" cy="388.47" r="2.94" fill="url(#gW)" />
<circle cx="494.23" cy="388.16" r="3.92" fill="url(#gW)" />
<circle cx="540.57" cy="380.29" r="2.94" fill="url(#gW)" />
<circle cx="530.56" cy="381.46" r="2.94" fill="url(#gW)" />
<circle cx="535.35" cy="379.07" r="3.92" fill="url(#gW)" />
<circle cx="574.87" cy="375.76" r="2.94" fill="url(#gW)" />
<circle cx="565.23" cy="378.71" r="2.94" fill="url(#gW)" />
<circle cx="569.52" cy="375.49" r="3.92" fill="url(#gW)" />
<circle cx="582.04" cy="388.80" r="2.94" fill="url(#gW)" />
<circle cx="572.06" cy="387.42" r="2.94" fill="url(#gW)" />
<circle cx="577.30" cy="386.31" r="3.92" fill="url(#gW)" />
<circle cx="602.10" cy="387.74" r="2.94" fill="url(#gW)" />
<circle cx="592.05" cy="388.49" r="2.94" fill="url(#gW)" />
<circle cx="596.94" cy="386.30" r="3.92" fill="url(#gW)" />
<circle cx="629.15" cy="388.31" r="2.94" fill="url(#gW)" />
<circle cx="619.58" cy="391.49" r="2.94" fill="url(#gW)" />
<circle cx="623.79" cy="388.17" r="3.92" fill="url(#gW)" />
<circle cx="648.33" cy="390.34" r="2.94" fill="url(#gW)" />
<circle cx="639.35" cy="385.77" r="2.94" fill="url(#gW)" />
<circle cx="644.67" cy="386.43" r="3.92" fill="url(#gW)" />
<circle cx="474.95" cy="395.10" r="2.94" fill="url(#gW)" />
<circle cx="465.38" cy="391.94" r="2.94" fill="url(#gW)" />
<circle cx="470.73" cy="391.79" r="3.92" fill="url(#gW)" />
<circle cx="489.67" cy="409.59" r="2.94" fill="url(#gW)" />
<circle cx="480.42" cy="413.61" r="2.94" fill="url(#gW)" />
<circle cx="484.32" cy="409.93" r="3.92" fill="url(#gW)" />
<circle cx="504.24" cy="410.43" r="2.94" fill="url(#gW)" />
<circle cx="494.23" cy="409.23" r="2.94" fill="url(#gW)" />
<circle cx="499.45" cy="408.02" r="3.92" fill="url(#gW)" />
<circle cx="533.27" cy="402.80" r="2.94" fill="url(#gW)" />
<circle cx="523.20" cy="402.39" r="2.94" fill="url(#gW)" />
<circle cx="528.31" cy="400.78" r="3.92" fill="url(#gW)" />
<circle cx="542.96" cy="414.39" r="2.94" fill="url(#gW)" />
<circle cx="534.64" cy="408.70" r="2.94" fill="url(#gW)" />
<circle cx="539.83" cy="410.05" r="3.92" fill="url(#gW)" />
<circle cx="572.58" cy="400.75" r="2.94" fill="url(#gW)" />
<circle cx="563.17" cy="397.13" r="2.94" fill="url(#gW)" />
<circle cx="568.53" cy="397.24" r="3.92" fill="url(#gW)" />
<circle cx="580.26" cy="413.56" r="2.94" fill="url(#gW)" />
<circle cx="570.75" cy="416.91" r="2.94" fill="url(#gW)" />
<circle cx="574.90" cy="413.52" r="3.92" fill="url(#gW)" />
<circle cx="603.89" cy="416.80" r="2.94" fill="url(#gW)" />
<circle cx="596.64" cy="409.80" r="2.94" fill="url(#gW)" />
<circle cx="601.53" cy="411.99" r="3.92" fill="url(#gW)" />
<circle cx="619.58" cy="399.60" r="2.94" fill="url(#gW)" />
<circle cx="611.33" cy="405.39" r="2.94" fill="url(#gW)" />
<circle cx="614.41" cy="401.00" r="3.92" fill="url(#gW)" />
<circle cx="638.31" cy="405.55" r="2.94" fill="url(#gW)" />
<circle cx="628.31" cy="406.87" r="2.94" fill="url(#gW)" />
<circle cx="633.07" cy="404.41" r="3.92" fill="url(#gW)" />
<circle cx="650.30" cy="402.76" r="2.94" fill="url(#gW)" />
<circle cx="641.06" cy="398.72" r="2.94" fill="url(#gW)" />
<circle cx="646.41" cy="399.07" r="3.92" fill="url(#gW)" />
<circle cx="630.57" cy="410.71" r="2.94" fill="url(#gW)" />
<circle cx="622.01" cy="416.03" r="2.94" fill="url(#gW)" />
<circle cx="625.33" cy="411.83" r="3.92" fill="url(#gW)" />
</g>
<line x1="548.6" y1="291" x2="548.6" y2="420" stroke="#c2c2c2" stroke-width="2.6"/>
<circle cx="547.90" cy="292.00" r="1.10" fill="#d8443a" />
<circle cx="549.30" cy="294.00" r="1.10" fill="#a8a8a8" />
<circle cx="547.90" cy="296.00" r="1.10" fill="#909090" />
<circle cx="549.30" cy="298.00" r="1.10" fill="#a8c0e4" />
<circle cx="547.90" cy="300.00" r="1.10" fill="#9c9c9c" />
<circle cx="549.30" cy="302.00" r="1.10" fill="#c4c4c4" />
<circle cx="547.90" cy="304.00" r="1.10" fill="#a0a0a0" />
<circle cx="549.30" cy="306.00" r="1.10" fill="#a4bce2" />
<circle cx="547.90" cy="308.00" r="1.10" fill="#b0b0b0" />
<circle cx="549.30" cy="310.00" r="1.10" fill="#989898" />
<circle cx="547.90" cy="312.00" r="1.10" fill="#d8443a" />
<circle cx="549.30" cy="314.00" r="1.10" fill="#a8a8a8" />
<circle cx="547.90" cy="316.00" r="1.10" fill="#909090" />
<circle cx="549.30" cy="318.00" r="1.10" fill="#a8c0e4" />
<circle cx="547.90" cy="320.00" r="1.10" fill="#9c9c9c" />
<circle cx="549.30" cy="322.00" r="1.10" fill="#c4c4c4" />
<circle cx="547.90" cy="324.00" r="1.10" fill="#a0a0a0" />
<circle cx="549.30" cy="326.00" r="1.10" fill="#a4bce2" />
<circle cx="547.90" cy="328.00" r="1.10" fill="#b0b0b0" />
<circle cx="549.30" cy="330.00" r="1.10" fill="#989898" />
<circle cx="547.90" cy="332.00" r="1.10" fill="#d8443a" />
<circle cx="549.30" cy="334.00" r="1.10" fill="#a8a8a8" />
<circle cx="547.90" cy="336.00" r="1.10" fill="#909090" />
<circle cx="549.30" cy="338.00" r="1.10" fill="#a8c0e4" />
<circle cx="547.90" cy="340.00" r="1.10" fill="#9c9c9c" />
<circle cx="549.30" cy="342.00" r="1.10" fill="#c4c4c4" />
<circle cx="547.90" cy="344.00" r="1.10" fill="#a0a0a0" />
<circle cx="549.30" cy="346.00" r="1.10" fill="#a4bce2" />
<circle cx="547.90" cy="348.00" r="1.10" fill="#b0b0b0" />
<circle cx="549.30" cy="350.00" r="1.10" fill="#989898" />
<circle cx="547.90" cy="352.00" r="1.10" fill="#d8443a" />
<circle cx="549.30" cy="354.00" r="1.10" fill="#a8a8a8" />
<circle cx="547.90" cy="356.00" r="1.10" fill="#909090" />
<circle cx="549.30" cy="358.00" r="1.10" fill="#a8c0e4" />
<circle cx="547.90" cy="360.00" r="1.10" fill="#9c9c9c" />
<circle cx="549.30" cy="362.00" r="1.10" fill="#c4c4c4" />
<circle cx="547.90" cy="364.00" r="1.10" fill="#a0a0a0" />
<circle cx="549.30" cy="366.00" r="1.10" fill="#a4bce2" />
<circle cx="547.90" cy="368.00" r="1.10" fill="#b0b0b0" />
<circle cx="549.30" cy="370.00" r="1.10" fill="#989898" />
<circle cx="547.90" cy="372.00" r="1.10" fill="#d8443a" />
<circle cx="549.30" cy="374.00" r="1.10" fill="#a8a8a8" />
<circle cx="547.90" cy="376.00" r="1.10" fill="#909090" />
<circle cx="549.30" cy="378.00" r="1.10" fill="#a8c0e4" />
<circle cx="547.90" cy="380.00" r="1.10" fill="#9c9c9c" />
<circle cx="549.30" cy="382.00" r="1.10" fill="#c4c4c4" />
<circle cx="547.90" cy="384.00" r="1.10" fill="#a0a0a0" />
<circle cx="549.30" cy="386.00" r="1.10" fill="#a4bce2" />
<circle cx="547.90" cy="388.00" r="1.10" fill="#b0b0b0" />
<circle cx="549.30" cy="390.00" r="1.10" fill="#989898" />
<circle cx="547.90" cy="392.00" r="1.10" fill="#d8443a" />
<circle cx="549.30" cy="394.00" r="1.10" fill="#a8a8a8" />
<circle cx="547.90" cy="396.00" r="1.10" fill="#909090" />
<circle cx="549.30" cy="398.00" r="1.10" fill="#a8c0e4" />
<circle cx="547.90" cy="400.00" r="1.10" fill="#9c9c9c" />
<circle cx="549.30" cy="402.00" r="1.10" fill="#c4c4c4" />
<circle cx="547.90" cy="404.00" r="1.10" fill="#a0a0a0" />
<circle cx="549.30" cy="406.00" r="1.10" fill="#a4bce2" />
<circle cx="547.90" cy="408.00" r="1.10" fill="#b0b0b0" />
<circle cx="549.30" cy="410.00" r="1.10" fill="#989898" />
<circle cx="547.90" cy="412.00" r="1.10" fill="#d8443a" />
<circle cx="549.30" cy="414.00" r="1.10" fill="#a8a8a8" />
<circle cx="547.90" cy="416.00" r="1.10" fill="#909090" />
<circle cx="549.30" cy="418.00" r="1.10" fill="#a8c0e4" />
<line x1="554.8" y1="291" x2="554.8" y2="420" stroke="#c2c2c2" stroke-width="2.6"/>
<circle cx="554.10" cy="292.00" r="1.10" fill="#d8443a" />
<circle cx="555.50" cy="294.00" r="1.10" fill="#a8a8a8" />
<circle cx="554.10" cy="296.00" r="1.10" fill="#909090" />
<circle cx="555.50" cy="298.00" r="1.10" fill="#a8c0e4" />
<circle cx="554.10" cy="300.00" r="1.10" fill="#9c9c9c" />
<circle cx="555.50" cy="302.00" r="1.10" fill="#c4c4c4" />
<circle cx="554.10" cy="304.00" r="1.10" fill="#a0a0a0" />
<circle cx="555.50" cy="306.00" r="1.10" fill="#a4bce2" />
<circle cx="554.10" cy="308.00" r="1.10" fill="#b0b0b0" />
<circle cx="555.50" cy="310.00" r="1.10" fill="#989898" />
<circle cx="554.10" cy="312.00" r="1.10" fill="#d8443a" />
<circle cx="555.50" cy="314.00" r="1.10" fill="#a8a8a8" />
<circle cx="554.10" cy="316.00" r="1.10" fill="#909090" />
<circle cx="555.50" cy="318.00" r="1.10" fill="#a8c0e4" />
<circle cx="554.10" cy="320.00" r="1.10" fill="#9c9c9c" />
<circle cx="555.50" cy="322.00" r="1.10" fill="#c4c4c4" />
<circle cx="554.10" cy="324.00" r="1.10" fill="#a0a0a0" />
<circle cx="555.50" cy="326.00" r="1.10" fill="#a4bce2" />
<circle cx="554.10" cy="328.00" r="1.10" fill="#b0b0b0" />
<circle cx="555.50" cy="330.00" r="1.10" fill="#989898" />
<circle cx="554.10" cy="332.00" r="1.10" fill="#d8443a" />
<circle cx="555.50" cy="334.00" r="1.10" fill="#a8a8a8" />
<circle cx="554.10" cy="336.00" r="1.10" fill="#909090" />
<circle cx="555.50" cy="338.00" r="1.10" fill="#a8c0e4" />
<circle cx="554.10" cy="340.00" r="1.10" fill="#9c9c9c" />
<circle cx="555.50" cy="342.00" r="1.10" fill="#c4c4c4" />
<circle cx="554.10" cy="344.00" r="1.10" fill="#a0a0a0" />
<circle cx="555.50" cy="346.00" r="1.10" fill="#a4bce2" />
<circle cx="554.10" cy="348.00" r="1.10" fill="#b0b0b0" />
<circle cx="555.50" cy="350.00" r="1.10" fill="#989898" />
<circle cx="554.10" cy="352.00" r="1.10" fill="#d8443a" />
<circle cx="555.50" cy="354.00" r="1.10" fill="#a8a8a8" />
<circle cx="554.10" cy="356.00" r="1.10" fill="#909090" />
<circle cx="555.50" cy="358.00" r="1.10" fill="#a8c0e4" />
<circle cx="554.10" cy="360.00" r="1.10" fill="#9c9c9c" />
<circle cx="555.50" cy="362.00" r="1.10" fill="#c4c4c4" />
<circle cx="554.10" cy="364.00" r="1.10" fill="#a0a0a0" />
<circle cx="555.50" cy="366.00" r="1.10" fill="#a4bce2" />
<circle cx="554.10" cy="368.00" r="1.10" fill="#b0b0b0" />
<circle cx="555.50" cy="370.00" r="1.10" fill="#989898" />
<circle cx="554.10" cy="372.00" r="1.10" fill="#d8443a" />
<circle cx="555.50" cy="374.00" r="1.10" fill="#a8a8a8" />
<circle cx="554.10" cy="376.00" r="1.10" fill="#909090" />
<circle cx="555.50" cy="378.00" r="1.10" fill="#a8c0e4" />
<circle cx="554.10" cy="380.00" r="1.10" fill="#9c9c9c" />
<circle cx="555.50" cy="382.00" r="1.10" fill="#c4c4c4" />
<circle cx="554.10" cy="384.00" r="1.10" fill="#a0a0a0" />
<circle cx="555.50" cy="386.00" r="1.10" fill="#a4bce2" />
<circle cx="554.10" cy="388.00" r="1.10" fill="#b0b0b0" />
<circle cx="555.50" cy="390.00" r="1.10" fill="#989898" />
<circle cx="554.10" cy="392.00" r="1.10" fill="#d8443a" />
<circle cx="555.50" cy="394.00" r="1.10" fill="#a8a8a8" />
<circle cx="554.10" cy="396.00" r="1.10" fill="#909090" />
<circle cx="555.50" cy="398.00" r="1.10" fill="#a8c0e4" />
<circle cx="554.10" cy="400.00" r="1.10" fill="#9c9c9c" />
<circle cx="555.50" cy="402.00" r="1.10" fill="#c4c4c4" />
<circle cx="554.10" cy="404.00" r="1.10" fill="#a0a0a0" />
<circle cx="555.50" cy="406.00" r="1.10" fill="#a4bce2" />
<circle cx="554.10" cy="408.00" r="1.10" fill="#b0b0b0" />
<circle cx="555.50" cy="410.00" r="1.10" fill="#989898" />
<circle cx="554.10" cy="412.00" r="1.10" fill="#d8443a" />
<circle cx="555.50" cy="414.00" r="1.10" fill="#a8a8a8" />
<circle cx="554.10" cy="416.00" r="1.10" fill="#909090" />
<circle cx="555.50" cy="418.00" r="1.10" fill="#a8c0e4" />
<line x1="561.2" y1="291" x2="561.2" y2="420" stroke="#c2c2c2" stroke-width="2.6"/>
<circle cx="560.50" cy="292.00" r="1.10" fill="#d8443a" />
<circle cx="561.90" cy="294.00" r="1.10" fill="#a8a8a8" />
<circle cx="560.50" cy="296.00" r="1.10" fill="#909090" />
<circle cx="561.90" cy="298.00" r="1.10" fill="#a8c0e4" />
<circle cx="560.50" cy="300.00" r="1.10" fill="#9c9c9c" />
<circle cx="561.90" cy="302.00" r="1.10" fill="#c4c4c4" />
<circle cx="560.50" cy="304.00" r="1.10" fill="#a0a0a0" />
<circle cx="561.90" cy="306.00" r="1.10" fill="#a4bce2" />
<circle cx="560.50" cy="308.00" r="1.10" fill="#b0b0b0" />
<circle cx="561.90" cy="310.00" r="1.10" fill="#989898" />
<circle cx="560.50" cy="312.00" r="1.10" fill="#d8443a" />
<circle cx="561.90" cy="314.00" r="1.10" fill="#a8a8a8" />
<circle cx="560.50" cy="316.00" r="1.10" fill="#909090" />
<circle cx="561.90" cy="318.00" r="1.10" fill="#a8c0e4" />
<circle cx="560.50" cy="320.00" r="1.10" fill="#9c9c9c" />
<circle cx="561.90" cy="322.00" r="1.10" fill="#c4c4c4" />
<circle cx="560.50" cy="324.00" r="1.10" fill="#a0a0a0" />
<circle cx="561.90" cy="326.00" r="1.10" fill="#a4bce2" />
<circle cx="560.50" cy="328.00" r="1.10" fill="#b0b0b0" />
<circle cx="561.90" cy="330.00" r="1.10" fill="#989898" />
<circle cx="560.50" cy="332.00" r="1.10" fill="#d8443a" />
<circle cx="561.90" cy="334.00" r="1.10" fill="#a8a8a8" />
<circle cx="560.50" cy="336.00" r="1.10" fill="#909090" />
<circle cx="561.90" cy="338.00" r="1.10" fill="#a8c0e4" />
<circle cx="560.50" cy="340.00" r="1.10" fill="#9c9c9c" />
<circle cx="561.90" cy="342.00" r="1.10" fill="#c4c4c4" />
<circle cx="560.50" cy="344.00" r="1.10" fill="#a0a0a0" />
<circle cx="561.90" cy="346.00" r="1.10" fill="#a4bce2" />
<circle cx="560.50" cy="348.00" r="1.10" fill="#b0b0b0" />
<circle cx="561.90" cy="350.00" r="1.10" fill="#989898" />
<circle cx="560.50" cy="352.00" r="1.10" fill="#d8443a" />
<circle cx="561.90" cy="354.00" r="1.10" fill="#a8a8a8" />
<circle cx="560.50" cy="356.00" r="1.10" fill="#909090" />
<circle cx="561.90" cy="358.00" r="1.10" fill="#a8c0e4" />
<circle cx="560.50" cy="360.00" r="1.10" fill="#9c9c9c" />
<circle cx="561.90" cy="362.00" r="1.10" fill="#c4c4c4" />
<circle cx="560.50" cy="364.00" r="1.10" fill="#a0a0a0" />
<circle cx="561.90" cy="366.00" r="1.10" fill="#a4bce2" />
<circle cx="560.50" cy="368.00" r="1.10" fill="#b0b0b0" />
<circle cx="561.90" cy="370.00" r="1.10" fill="#989898" />
<circle cx="560.50" cy="372.00" r="1.10" fill="#d8443a" />
<circle cx="561.90" cy="374.00" r="1.10" fill="#a8a8a8" />
<circle cx="560.50" cy="376.00" r="1.10" fill="#909090" />
<circle cx="561.90" cy="378.00" r="1.10" fill="#a8c0e4" />
<circle cx="560.50" cy="380.00" r="1.10" fill="#9c9c9c" />
<circle cx="561.90" cy="382.00" r="1.10" fill="#c4c4c4" />
<circle cx="560.50" cy="384.00" r="1.10" fill="#a0a0a0" />
<circle cx="561.90" cy="386.00" r="1.10" fill="#a4bce2" />
<circle cx="560.50" cy="388.00" r="1.10" fill="#b0b0b0" />
<circle cx="561.90" cy="390.00" r="1.10" fill="#989898" />
<circle cx="560.50" cy="392.00" r="1.10" fill="#d8443a" />
<circle cx="561.90" cy="394.00" r="1.10" fill="#a8a8a8" />
<circle cx="560.50" cy="396.00" r="1.10" fill="#909090" />
<circle cx="561.90" cy="398.00" r="1.10" fill="#a8c0e4" />
<circle cx="560.50" cy="400.00" r="1.10" fill="#9c9c9c" />
<circle cx="561.90" cy="402.00" r="1.10" fill="#c4c4c4" />
<circle cx="560.50" cy="404.00" r="1.10" fill="#a0a0a0" />
<circle cx="561.90" cy="406.00" r="1.10" fill="#a4bce2" />
<circle cx="560.50" cy="408.00" r="1.10" fill="#b0b0b0" />
<circle cx="561.90" cy="410.00" r="1.10" fill="#989898" />
<circle cx="560.50" cy="412.00" r="1.10" fill="#d8443a" />
<circle cx="561.90" cy="414.00" r="1.10" fill="#a8a8a8" />
<circle cx="560.50" cy="416.00" r="1.10" fill="#909090" />
<circle cx="561.90" cy="418.00" r="1.10" fill="#a8c0e4" />
<circle cx="478.10" cy="334.30" r="5.60" fill="url(#gNaF)" />
<circle cx="528.60" cy="353.30" r="5.60" fill="url(#gNaF)" />
<circle cx="506.50" cy="375.60" r="5.60" fill="url(#gNaF)" />
<circle cx="487.90" cy="384.40" r="5.60" fill="url(#gNaF)" />
<circle cx="528.40" cy="387.20" r="5.60" fill="url(#gNaF)" />
<circle cx="588.20" cy="345.50" r="5.60" fill="url(#gNaF)" />
<circle cx="605.70" cy="377.70" r="5.60" fill="url(#gNaF)" />
<circle cx="502.90" cy="309.00" r="6.30" fill="url(#gKF)" />
<circle cx="502.90" cy="347.90" r="6.30" fill="url(#gKF)" />
<circle cx="483.00" cy="355.70" r="6.30" fill="url(#gKF)" />
<circle cx="474.80" cy="402.80" r="6.30" fill="url(#gKF)" />
<circle cx="514.40" cy="410.80" r="6.30" fill="url(#gKF)" />
<circle cx="481.20" cy="436.60" r="5.50" fill="url(#gNaF)" />
<text x="489.60" y="440.70" font-size="11.2" fill="#111">Na<tspan font-size="8.1" dy="-3.36">+</tspan></text>
<circle cx="542.00" cy="436.60" r="6.40" fill="url(#gKF)" />
<text x="554.60" y="440.70" font-size="11.2" fill="#111">K<tspan font-size="8.1" dy="-3.36">+</tspan></text>
<circle cx="596.16" cy="434.79" r="2.73" fill="url(#gW)" />
<circle cx="588.43" cy="440.07" r="2.73" fill="url(#gW)" />
<circle cx="591.34" cy="436.03" r="3.64" fill="url(#gW)" />
<text x="604.6" y="440.7" font-size="11.2" fill="#111">H<tspan font-size="7.5" dy="2.5">2</tspan><tspan dy="-2.5">O</tspan></text>
<circle cx="124.80" cy="528.60" r="10.20" fill="url(#gGrayB)" />
<circle cx="147.60" cy="528.60" r="10.20" fill="url(#gGrayB)" />
<circle cx="170.40" cy="528.60" r="10.20" fill="url(#gGrayB)" />
<circle cx="193.20" cy="528.60" r="10.20" fill="url(#gGrayB)" />
<circle cx="216.00" cy="528.60" r="10.20" fill="url(#gBlueB)" />
<circle cx="238.80" cy="528.60" r="10.20" fill="url(#gBlueB)" />
<circle cx="261.60" cy="528.60" r="10.20" fill="url(#gGrayB)" />
<circle cx="284.40" cy="528.60" r="10.20" fill="url(#gGrayB)" />
<circle cx="307.20" cy="528.60" r="10.20" fill="url(#gGrayB)" />
<circle cx="330.00" cy="528.60" r="10.20" fill="url(#gGrayB)" />
<circle cx="352.80" cy="528.60" r="10.20" fill="url(#gBlueB)" />
<circle cx="375.60" cy="528.60" r="10.20" fill="url(#gBlueB)" />
<circle cx="398.40" cy="528.60" r="10.20" fill="url(#gGrayB)" />
<circle cx="421.20" cy="528.60" r="10.20" fill="url(#gGrayB)" />
<circle cx="444.00" cy="528.60" r="10.20" fill="url(#gGrayB)" />
<circle cx="466.80" cy="528.60" r="10.20" fill="url(#gGrayB)" />
<circle cx="489.60" cy="528.60" r="10.20" fill="url(#gGrayB)" />
<circle cx="512.40" cy="528.60" r="10.20" fill="url(#gGrayB)" />
<circle cx="535.20" cy="528.60" r="10.20" fill="url(#gBlueB)" />
<circle cx="558.00" cy="528.60" r="10.20" fill="url(#gBlueB)" />
<circle cx="125.30" cy="648.40" r="10.20" fill="url(#gGrayB)" />
<circle cx="148.08" cy="648.40" r="10.20" fill="url(#gGrayB)" />
<circle cx="170.86" cy="648.40" r="10.20" fill="url(#gGrayB)" />
<circle cx="193.64" cy="648.40" r="10.20" fill="url(#gBlueB)" />
<circle cx="216.42" cy="648.40" r="10.20" fill="url(#gBlueB)" />
<circle cx="239.20" cy="648.40" r="10.20" fill="url(#gGrayB)" />
<circle cx="261.98" cy="648.40" r="10.20" fill="url(#gGrayB)" />
<circle cx="284.76" cy="648.40" r="10.20" fill="url(#gGrayB)" />
<circle cx="307.54" cy="648.40" r="10.20" fill="url(#gGrayB)" />
<circle cx="330.32" cy="648.40" r="10.20" fill="url(#gBlueB)" />
<circle cx="353.10" cy="648.40" r="10.20" fill="url(#gBlueB)" />
<circle cx="375.88" cy="648.40" r="10.20" fill="url(#gGrayB)" />
<circle cx="398.66" cy="648.40" r="10.20" fill="url(#gGrayB)" />
<circle cx="421.44" cy="648.40" r="10.20" fill="url(#gGrayB)" />
<circle cx="444.22" cy="648.40" r="10.20" fill="url(#gGrayB)" />
<circle cx="467.00" cy="648.40" r="10.20" fill="url(#gBlueB)" />
<circle cx="489.78" cy="648.40" r="10.20" fill="url(#gBlueB)" />
<circle cx="512.56" cy="648.40" r="10.20" fill="url(#gGrayB)" />
<circle cx="535.34" cy="648.40" r="10.20" fill="url(#gGrayB)" />
<circle cx="558.12" cy="648.40" r="10.20" fill="url(#gGrayB)" />
<line x1="121.80" y1="538.50" x2="121.80" y2="557.00" stroke="#3e3e3e" stroke-width="2.3" />
<line x1="193.20" y1="538.50" x2="193.20" y2="557.00" stroke="#3e3e3e" stroke-width="2.3" />
<line x1="257.60" y1="538.50" x2="257.60" y2="557.00" stroke="#3e3e3e" stroke-width="2.3" />
<line x1="329.00" y1="538.50" x2="329.00" y2="557.00" stroke="#3e3e3e" stroke-width="2.3" />
<line x1="395.20" y1="538.50" x2="395.20" y2="557.00" stroke="#3e3e3e" stroke-width="2.3" />
<line x1="442.80" y1="538.50" x2="442.80" y2="557.00" stroke="#3e3e3e" stroke-width="2.3" />
<line x1="514.50" y1="538.50" x2="514.50" y2="557.00" stroke="#3e3e3e" stroke-width="2.3" />
<line x1="172.60" y1="620.00" x2="172.60" y2="638.50" stroke="#3e3e3e" stroke-width="2.3" />
<line x1="238.00" y1="620.00" x2="238.00" y2="638.50" stroke="#3e3e3e" stroke-width="2.3" />
<line x1="309.60" y1="620.00" x2="309.60" y2="638.50" stroke="#3e3e3e" stroke-width="2.3" />
<line x1="376.30" y1="620.00" x2="376.30" y2="638.50" stroke="#3e3e3e" stroke-width="2.3" />
<line x1="447.80" y1="620.00" x2="447.80" y2="638.50" stroke="#3e3e3e" stroke-width="2.3" />
<line x1="512.40" y1="620.00" x2="512.40" y2="638.50" stroke="#3e3e3e" stroke-width="2.3" />
<line x1="121.50" y1="566.50" x2="102.50" y2="584.50" stroke="#3e3e3e" stroke-width="2.2" />
<line x1="198.00" y1="563.00" x2="179.00" y2="581.00" stroke="#3e3e3e" stroke-width="2.2" />
<line x1="257.40" y1="567.00" x2="238.40" y2="585.00" stroke="#3e3e3e" stroke-width="2.2" />
<line x1="328.20" y1="565.20" x2="309.20" y2="583.20" stroke="#3e3e3e" stroke-width="2.2" />
<line x1="395.50" y1="567.00" x2="376.50" y2="585.00" stroke="#3e3e3e" stroke-width="2.2" />
<line x1="442.80" y1="566.50" x2="423.80" y2="584.50" stroke="#3e3e3e" stroke-width="2.2" />
<line x1="514.80" y1="565.00" x2="495.80" y2="583.00" stroke="#3e3e3e" stroke-width="2.2" />
<line x1="172.80" y1="612.60" x2="191.80" y2="595.60" stroke="#3e3e3e" stroke-width="2.2" />
<line x1="237.50" y1="610.80" x2="256.50" y2="593.80" stroke="#3e3e3e" stroke-width="2.2" />
<line x1="310.00" y1="612.80" x2="329.00" y2="595.80" stroke="#3e3e3e" stroke-width="2.2" />
<line x1="376.10" y1="610.50" x2="395.10" y2="593.50" stroke="#3e3e3e" stroke-width="2.2" />
<line x1="447.90" y1="612.50" x2="466.90" y2="595.50" stroke="#3e3e3e" stroke-width="2.2" />
<line x1="512.40" y1="609.60" x2="531.40" y2="592.60" stroke="#3e3e3e" stroke-width="2.2" />
<circle cx="102.50" cy="584.50" r="6.70" fill="url(#gHp)" />
<circle cx="179.00" cy="581.00" r="6.70" fill="url(#gHp)" />
<circle cx="238.40" cy="585.00" r="6.70" fill="url(#gHp)" />
<circle cx="309.20" cy="583.20" r="6.70" fill="url(#gHp)" />
<circle cx="376.50" cy="585.00" r="6.70" fill="url(#gHp)" />
<circle cx="423.80" cy="584.50" r="6.70" fill="url(#gHp)" />
<circle cx="495.80" cy="583.00" r="6.70" fill="url(#gHp)" />
<circle cx="191.80" cy="595.60" r="6.70" fill="url(#gHp)" />
<circle cx="256.50" cy="593.80" r="6.70" fill="url(#gHp)" />
<circle cx="329.00" cy="595.80" r="6.70" fill="url(#gHp)" />
<circle cx="395.10" cy="593.50" r="6.70" fill="url(#gHp)" />
<circle cx="466.90" cy="595.50" r="6.70" fill="url(#gHp)" />
<circle cx="531.40" cy="592.60" r="6.70" fill="url(#gHp)" />
<circle cx="121.50" cy="566.50" r="9.80" fill="url(#gOring)" />
<circle cx="198.00" cy="563.00" r="9.80" fill="url(#gOring)" />
<circle cx="257.40" cy="567.00" r="9.80" fill="url(#gOring)" />
<circle cx="328.20" cy="565.20" r="9.80" fill="url(#gOring)" />
<circle cx="395.50" cy="567.00" r="9.80" fill="url(#gOring)" />
<circle cx="442.80" cy="566.50" r="9.80" fill="url(#gOring)" />
<circle cx="514.80" cy="565.00" r="9.80" fill="url(#gOring)" />
<circle cx="172.80" cy="612.60" r="9.80" fill="url(#gOring)" />
<circle cx="237.50" cy="610.80" r="9.80" fill="url(#gOring)" />
<circle cx="310.00" cy="612.80" r="9.80" fill="url(#gOring)" />
<circle cx="376.10" cy="610.50" r="9.80" fill="url(#gOring)" />
<circle cx="447.90" cy="612.50" r="9.80" fill="url(#gOring)" />
<circle cx="512.40" cy="609.60" r="9.80" fill="url(#gOring)" />
<linearGradient id="tg1" gradientUnits="userSpaceOnUse" x1="92" y1="0" x2="192" y2="0"><stop offset="0" stop-color="#bc5c68" stop-opacity="0.5"/><stop offset="0.6" stop-color="#bc5c68" stop-opacity="0.9"/><stop offset="1" stop-color="#bc5c68" stop-opacity="1"/></linearGradient>
<path d="M92.0,611.0 C94.7,610.8 101.7,609.7 108.0,610.0 C114.3,610.3 122.2,611.3 130.0,613.0 C137.8,614.7 147.5,618.2 155.0,620.0 C162.5,621.8 168.8,624.2 175.0,624.0 C181.2,623.8 189.2,619.8 192.0,619.0" fill="none" stroke="url(#tg1)" stroke-width="30" stroke-linecap="round" opacity="0.3" filter="url(#fB1)"/>
<path d="M92.0,611.0 C94.7,610.8 101.7,609.7 108.0,610.0 C114.3,610.3 122.2,611.3 130.0,613.0 C137.8,614.7 147.5,618.2 155.0,620.0 C162.5,621.8 168.8,624.2 175.0,624.0 C181.2,623.8 189.2,619.8 192.0,619.0" fill="none" stroke="url(#tg1)" stroke-width="12" stroke-linecap="round" opacity="0.6" filter="url(#fB2)"/>
<linearGradient id="tg2" gradientUnits="userSpaceOnUse" x1="196" y1="0" x2="300" y2="0"><stop offset="0" stop-color="#bc5c68" stop-opacity="0.35"/><stop offset="0.6" stop-color="#bc5c68" stop-opacity="0.9"/><stop offset="1" stop-color="#bc5c68" stop-opacity="1"/></linearGradient>
<path d="M196.0,589.0 C199.2,589.2 206.0,588.7 215.0,590.0 C224.0,591.3 239.2,594.7 250.0,597.0 C260.8,599.3 271.7,602.6 280.0,604.0 C288.3,605.4 296.7,605.2 300.0,605.5" fill="none" stroke="url(#tg2)" stroke-width="16" stroke-linecap="round" opacity="0.32" filter="url(#fB3)"/>
<path d="M196.0,589.0 C199.2,589.2 206.0,588.7 215.0,590.0 C224.0,591.3 239.2,594.7 250.0,597.0 C260.8,599.3 271.7,602.6 280.0,604.0 C288.3,605.4 296.7,605.2 300.0,605.5" fill="none" stroke="url(#tg2)" stroke-width="9" stroke-linecap="round" opacity="0.6" filter="url(#fB2)"/>
<linearGradient id="tg3" gradientUnits="userSpaceOnUse" x1="352" y1="0" x2="453" y2="0"><stop offset="0" stop-color="#bc5c68" stop-opacity="0.35"/><stop offset="0.6" stop-color="#bc5c68" stop-opacity="0.9"/><stop offset="1" stop-color="#bc5c68" stop-opacity="1"/></linearGradient>
<path d="M352.0,594.0 C357.5,594.0 374.5,594.8 385.0,594.0 C395.5,593.2 405.8,591.0 415.0,589.0 C424.2,587.0 433.7,584.5 440.0,582.0 C446.3,579.5 450.8,575.3 453.0,574.0" fill="none" stroke="url(#tg3)" stroke-width="20" stroke-linecap="round" opacity="0.35" filter="url(#fB1)"/>
<path d="M352.0,594.0 C357.5,594.0 374.5,594.8 385.0,594.0 C395.5,593.2 405.8,591.0 415.0,589.0 C424.2,587.0 433.7,584.5 440.0,582.0 C446.3,579.5 450.8,575.3 453.0,574.0" fill="none" stroke="url(#tg3)" stroke-width="10" stroke-linecap="round" opacity="0.62" filter="url(#fB2)"/>
<linearGradient id="tg4" gradientUnits="userSpaceOnUse" x1="468" y1="0" x2="572" y2="0"><stop offset="0" stop-color="#bc5c68" stop-opacity="0.35"/><stop offset="0.6" stop-color="#bc5c68" stop-opacity="0.9"/><stop offset="1" stop-color="#bc5c68" stop-opacity="1"/></linearGradient>
<path d="M468.0,574.0 C472.5,574.5 485.5,574.7 495.0,577.0 C504.5,579.3 515.5,586.2 525.0,588.0 C534.5,589.8 544.2,589.0 552.0,588.0 C559.8,587.0 568.7,583.0 572.0,582.0" fill="none" stroke="url(#tg4)" stroke-width="26" stroke-linecap="round" opacity="0.38" filter="url(#fB1)"/>
<path d="M468.0,574.0 C472.5,574.5 485.5,574.7 495.0,577.0 C504.5,579.3 515.5,586.2 525.0,588.0 C534.5,589.8 544.2,589.0 552.0,588.0 C559.8,587.0 568.7,583.0 572.0,582.0" fill="none" stroke="url(#tg4)" stroke-width="12" stroke-linecap="round" opacity="0.7" filter="url(#fB2)"/>
<linearGradient id="tg5" gradientUnits="userSpaceOnUse" x1="92" y1="0" x2="190" y2="0"><stop offset="0" stop-color="#86e6a8" stop-opacity="0.5"/><stop offset="0.6" stop-color="#86e6a8" stop-opacity="0.9"/><stop offset="1" stop-color="#86e6a8" stop-opacity="1"/></linearGradient>
<path d="M92.0,560.0 C95.0,560.2 102.8,560.0 110.0,561.0 C117.2,562.0 126.7,564.0 135.0,566.0 C143.3,568.0 152.8,571.7 160.0,573.0 C167.2,574.3 173.0,575.0 178.0,574.0 C183.0,573.0 188.0,568.2 190.0,567.0" fill="none" stroke="url(#tg5)" stroke-width="30" stroke-linecap="round" opacity="0.45" filter="url(#fB1)"/>
<path d="M92.0,560.0 C95.0,560.2 102.8,560.0 110.0,561.0 C117.2,562.0 126.7,564.0 135.0,566.0 C143.3,568.0 152.8,571.7 160.0,573.0 C167.2,574.3 173.0,575.0 178.0,574.0 C183.0,573.0 188.0,568.2 190.0,567.0" fill="none" stroke="url(#tg5)" stroke-width="13" stroke-linecap="round" opacity="0.75" filter="url(#fB2)"/>
<linearGradient id="tg6" gradientUnits="userSpaceOnUse" x1="192" y1="0" x2="249" y2="0"><stop offset="0" stop-color="#86e6a8" stop-opacity="0.8"/><stop offset="0.6" stop-color="#86e6a8" stop-opacity="0.9"/><stop offset="1" stop-color="#86e6a8" stop-opacity="1"/></linearGradient>
<path d="M192.0,570.0 C195.0,571.0 203.3,574.7 210.0,576.0 C216.7,577.3 225.5,578.0 232.0,578.0 C238.5,578.0 246.2,576.3 249.0,576.0" fill="none" stroke="url(#tg6)" stroke-width="20" stroke-linecap="round" opacity="0.45" filter="url(#fB1)"/>
<path d="M192.0,570.0 C195.0,571.0 203.3,574.7 210.0,576.0 C216.7,577.3 225.5,578.0 232.0,578.0 C238.5,578.0 246.2,576.3 249.0,576.0" fill="none" stroke="url(#tg6)" stroke-width="11" stroke-linecap="round" opacity="0.7" filter="url(#fB2)"/>
<linearGradient id="tg7" gradientUnits="userSpaceOnUse" x1="242" y1="0" x2="378" y2="0"><stop offset="0" stop-color="#86e6a8" stop-opacity="0.5"/><stop offset="0.6" stop-color="#86e6a8" stop-opacity="0.9"/><stop offset="1" stop-color="#86e6a8" stop-opacity="1"/></linearGradient>
<path d="M242.0,551.0 C246.7,551.3 260.3,552.2 270.0,553.0 C279.7,553.8 290.0,554.8 300.0,556.0 C310.0,557.2 321.3,558.2 330.0,560.0 C338.7,561.8 345.7,566.0 352.0,567.0 C358.3,568.0 363.7,566.7 368.0,566.0 C372.3,565.3 376.3,563.5 378.0,563.0" fill="none" stroke="url(#tg7)" stroke-width="17" stroke-linecap="round" opacity="0.5" filter="url(#fB3)"/>
<path d="M242.0,551.0 C246.7,551.3 260.3,552.2 270.0,553.0 C279.7,553.8 290.0,554.8 300.0,556.0 C310.0,557.2 321.3,558.2 330.0,560.0 C338.7,561.8 345.7,566.0 352.0,567.0 C358.3,568.0 363.7,566.7 368.0,566.0 C372.3,565.3 376.3,563.5 378.0,563.0" fill="none" stroke="url(#tg7)" stroke-width="10" stroke-linecap="round" opacity="0.75" filter="url(#fB2)"/>
<path d="M182.6,578.9 L180.0,566.0" fill="none" stroke="#d3a126" stroke-width="3.4" stroke-linejoin="miter" stroke-linecap="butt"/>
<path d="M197.2,548.1 L198.0,539.5 L212.6,541.8 L222.5,552.6" fill="none" stroke="#d3a126" stroke-width="3.4" stroke-linejoin="miter" stroke-linecap="butt"/>
<path d="M234.3,563.5 L244.3,568.0 L252.4,582.5 L255.1,591.5" fill="none" stroke="#d3a126" stroke-width="3.4" stroke-linejoin="miter" stroke-linecap="butt"/>
<path d="M251.5,610.0 L254.2,627.7 L242.4,634.0" fill="none" stroke="#d3a126" stroke-width="3.4" stroke-linejoin="miter" stroke-linecap="butt"/>
<path d="M221.5,627.7 L215.2,629.5 L202.5,620.5 L198.0,606.0" fill="none" stroke="#d3a126" stroke-width="3.4" stroke-linejoin="miter" stroke-linecap="butt"/>
<path d="M188.9,587.9 L182.6,578.9" fill="none" stroke="#d3a126" stroke-width="3.4" stroke-linejoin="miter" stroke-linecap="butt"/>
<ellipse cx="228.0" cy="560.8" rx="2.3" ry="3.3" fill="none" stroke="#d3a126" stroke-width="1.8" transform="rotate(-30 228.0 560.8)"/>
<ellipse cx="247.9" cy="602.4" rx="2.3" ry="3.3" fill="none" stroke="#d3a126" stroke-width="1.8" transform="rotate(20 247.9 602.4)"/>
<ellipse cx="228.0" cy="624.1" rx="2.3" ry="3.3" fill="none" stroke="#d3a126" stroke-width="1.8" transform="rotate(-20 228.0 624.1)"/>
<ellipse cx="196.2" cy="596.1" rx="2.3" ry="3.3" fill="none" stroke="#d3a126" stroke-width="1.8" transform="rotate(-20 196.2 596.1)"/>
<path d="M337.2,554.4 L344.4,552.6" fill="none" stroke="#d3a126" stroke-width="3.4" stroke-linejoin="miter" stroke-linecap="butt"/>
<path d="M352.6,544.5 L354.4,534.5 L369.8,536.3 L377.9,548.1" fill="none" stroke="#d3a126" stroke-width="3.4" stroke-linejoin="miter" stroke-linecap="butt"/>
<path d="M391.5,559.9 L400.5,563.5 L410.5,584.3 L407.8,592.4" fill="none" stroke="#d3a126" stroke-width="3.4" stroke-linejoin="miter" stroke-linecap="butt"/>
<path d="M406.9,607.8 L410.5,621.4 L401.4,629.5 L391.5,624.1" fill="none" stroke="#d3a126" stroke-width="3.4" stroke-linejoin="miter" stroke-linecap="butt"/>
<path d="M377.9,623.2 L371.6,625.9 L356.2,613.3 L352.6,600.6" fill="none" stroke="#d3a126" stroke-width="3.4" stroke-linejoin="miter" stroke-linecap="butt"/>
<path d="M344.4,582.5 L336.3,571.6" fill="none" stroke="#d3a126" stroke-width="3.4" stroke-linejoin="miter" stroke-linecap="butt"/>
<ellipse cx="351.1" cy="552.6" rx="2.3" ry="3.3" fill="none" stroke="#d3a126" stroke-width="1.8" transform="rotate(10 351.1 552.6)"/>
<ellipse cx="383.3" cy="557.1" rx="2.3" ry="3.3" fill="none" stroke="#d3a126" stroke-width="1.8" transform="rotate(-25 383.3 557.1)"/>
<ellipse cx="403.6" cy="599.7" rx="2.3" ry="3.3" fill="none" stroke="#d3a126" stroke-width="1.8" transform="rotate(15 403.6 599.7)"/>
<ellipse cx="383.7" cy="620.5" rx="2.3" ry="3.3" fill="none" stroke="#d3a126" stroke-width="1.8" transform="rotate(-20 383.7 620.5)"/>
<ellipse cx="351.1" cy="591.5" rx="2.3" ry="3.3" fill="none" stroke="#d3a126" stroke-width="1.8" transform="rotate(-15 351.1 591.5)"/>
<path d="M485.0,586.2 L476.8,577.0 L477.8,556.6 L485.0,555.5" fill="none" stroke="#d3a126" stroke-width="3.4" stroke-linejoin="miter" stroke-linecap="butt"/>
<path d="M494.2,547.4 L495.2,537.2 L511.5,539.2 L518.7,550.4" fill="none" stroke="#d3a126" stroke-width="3.4" stroke-linejoin="miter" stroke-linecap="butt"/>
<path d="M532.0,561.7 L542.2,565.8 L552.0,588.2 L548.3,595.4" fill="none" stroke="#d3a126" stroke-width="3.4" stroke-linejoin="miter" stroke-linecap="butt"/>
<path d="M548.3,609.7 L551.4,624.0 L542.2,632.2 L533.0,628.1" fill="none" stroke="#d3a126" stroke-width="3.4" stroke-linejoin="miter" stroke-linecap="butt"/>
<path d="M517.7,625.0 L512.6,628.1 L497.2,615.8 L494.2,602.6" fill="none" stroke="#d3a126" stroke-width="3.4" stroke-linejoin="miter" stroke-linecap="butt"/>
<ellipse cx="492.7" cy="555.5" rx="2.3" ry="3.3" fill="none" stroke="#d3a126" stroke-width="1.8" transform="rotate(10 492.7 555.5)"/>
<ellipse cx="524.2" cy="559.6" rx="2.3" ry="3.3" fill="none" stroke="#d3a126" stroke-width="1.8" transform="rotate(-25 524.2 559.6)"/>
<ellipse cx="544.6" cy="601.5" rx="2.3" ry="3.3" fill="none" stroke="#d3a126" stroke-width="1.8" transform="rotate(15 544.6 601.5)"/>
<ellipse cx="524.2" cy="623.0" rx="2.3" ry="3.3" fill="none" stroke="#d3a126" stroke-width="1.8" transform="rotate(-20 524.2 623.0)"/>
<ellipse cx="492.7" cy="593.8" rx="2.3" ry="3.3" fill="none" stroke="#d3a126" stroke-width="1.8" transform="rotate(-10 492.7 593.8)"/>
<circle cx="189.80" cy="564.00" r="11.50" fill="url(#gKhalo)" />
<circle cx="189.80" cy="564.00" r="4.60" fill="url(#gKion)" />
<circle cx="248.70" cy="575.80" r="4.60" fill="url(#gKion)" />
<circle cx="333.00" cy="557.50" r="9.00" fill="url(#gKhalo)" />
<circle cx="333.00" cy="557.50" r="4.60" fill="url(#gKion)" />
<circle cx="377.00" cy="562.60" r="4.60" fill="url(#gKion)" />
<circle cx="190.80" cy="618.50" r="12.00" fill="url(#gNahalo)" />
<circle cx="190.80" cy="618.50" r="4.80" fill="url(#gNaion)" />
<circle cx="300.30" cy="605.50" r="4.80" fill="url(#gNaion)" />
<circle cx="453.30" cy="573.90" r="4.80" fill="url(#gNaion)" />
<circle cx="572.80" cy="582.10" r="10.00" fill="url(#gNahalo)" />
<circle cx="572.80" cy="582.10" r="4.80" fill="url(#gNaion)" />
<circle cx="44.50" cy="563.20" r="19.00" fill="url(#gKbig)" />
<circle cx="44.50" cy="563.20" r="8.30" fill="url(#gKbigc)" />
<text x="43.6" y="566.6" font-size="9.4" text-anchor="middle" fill="#111">K<tspan font-size="6" dy="-3.4">+</tspan></text>
<circle cx="48.10" cy="630.20" r="19.60" fill="url(#gNabig)" />
<circle cx="48.10" cy="630.20" r="8.70" fill="url(#gNabigc)" />
<text x="47.2" y="633.6" font-size="9.4" text-anchor="middle" fill="#111">Na<tspan font-size="6" dy="-3.4">+</tspan></text>
<line x1="608.10" y1="527.50" x2="608.10" y2="647.50" stroke="#c9621f" stroke-width="2.3" />
<line x1="594.20" y1="527.00" x2="625.00" y2="527.00" stroke="#c9621f" stroke-width="2.3" />
<line x1="594.20" y1="648.00" x2="625.00" y2="648.00" stroke="#c9621f" stroke-width="2.3" />
<text x="625.80" y="597.80" font-size="16.4" text-anchor="start" fill="#111" >6.0</text>
<text x="654.80" y="597.80" font-size="16.4" text-anchor="start" fill="#111" >Å</text>
</svg></body></html>
